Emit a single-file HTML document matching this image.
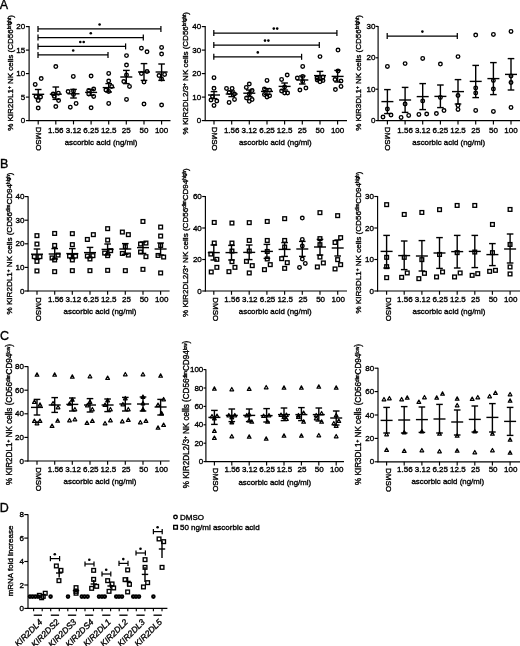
<!DOCTYPE html>
<html><head><meta charset="utf-8"><title>figure</title>
<style>
html,body{margin:0;padding:0;background:#fff;}
body{width:520px;height:646px;overflow:hidden;font-family:"Liberation Sans",sans-serif;}
svg{display:block;filter:blur(0.45px);}
svg text{font-family:"Liberation Sans",sans-serif;fill:#000;stroke:#000;stroke-width:0.35px;}
</style></head><body>
<svg width="520" height="646" viewBox="0 0 520 646">
<rect width="520" height="646" fill="#fff"/>
<text x="-0.3" y="8.8" font-size="12.5" text-anchor="start">A</text>
<text x="-0.1" y="168.2" font-size="12.5" text-anchor="start">B</text>
<text x="0.0" y="339.8" font-size="12.5" text-anchor="start">C</text>
<text x="-0.3" y="511.6" font-size="12.5" text-anchor="start">D</text>
<path d="M29.1 26.1L29.1 121.0" stroke="#000" stroke-width="1.15" fill="none"/>
<path d="M28.6 120.6L170.5 120.6" stroke="#000" stroke-width="1.15" fill="none"/>
<path d="M25.9 120.6L29.1 120.6" stroke="#000" stroke-width="1.15" fill="none"/>
<text x="25.2" y="123.0" font-size="8.0" text-anchor="end">0</text>
<path d="M25.9 97.1L29.1 97.1" stroke="#000" stroke-width="1.15" fill="none"/>
<text x="25.2" y="100.0" font-size="8.0" text-anchor="end">5</text>
<path d="M25.9 73.6L29.1 73.6" stroke="#000" stroke-width="1.15" fill="none"/>
<text x="25.2" y="76.0" font-size="8.0" text-anchor="end">10</text>
<path d="M25.9 50.1L29.1 50.1" stroke="#000" stroke-width="1.15" fill="none"/>
<text x="25.2" y="53.0" font-size="8.0" text-anchor="end">15</text>
<path d="M25.9 26.6L29.1 26.6" stroke="#000" stroke-width="1.15" fill="none"/>
<text x="25.2" y="29.0" font-size="8.0" text-anchor="end">20</text>
<path d="M38.2 120.6L38.2 124.4" stroke="#000" stroke-width="1.15" fill="none"/>
<text x="36.0" y="126.8" font-size="8.0" text-anchor="start" transform="rotate(90 36.0 126.8)">DMSO</text>
<path d="M55.8 120.6L55.8 124.4" stroke="#000" stroke-width="1.15" fill="none"/>
<text x="55.8" y="133.2" font-size="8.0" text-anchor="middle">1.56</text>
<path d="M73.5 120.6L73.5 124.4" stroke="#000" stroke-width="1.15" fill="none"/>
<text x="73.5" y="133.2" font-size="8.0" text-anchor="middle">3.12</text>
<path d="M91.1 120.6L91.1 124.4" stroke="#000" stroke-width="1.15" fill="none"/>
<text x="91.1" y="133.2" font-size="8.0" text-anchor="middle">6.25</text>
<path d="M108.7 120.6L108.7 124.4" stroke="#000" stroke-width="1.15" fill="none"/>
<text x="108.7" y="133.2" font-size="8.0" text-anchor="middle">12.5</text>
<path d="M126.3 120.6L126.3 124.4" stroke="#000" stroke-width="1.15" fill="none"/>
<text x="126.3" y="133.2" font-size="8.0" text-anchor="middle">25</text>
<path d="M144.0 120.6L144.0 124.4" stroke="#000" stroke-width="1.15" fill="none"/>
<text x="144.0" y="133.2" font-size="8.0" text-anchor="middle">50</text>
<path d="M161.6 120.6L161.6 124.4" stroke="#000" stroke-width="1.15" fill="none"/>
<text x="161.6" y="133.2" font-size="8.0" text-anchor="middle">100</text>
<text x="101.1" y="145.2" font-size="7.9" text-anchor="middle">ascorbic acid (ng/ml)</text>
<text x="12.7" y="73.0" font-size="8.0" text-anchor="middle" transform="rotate(-90 12.7 73.0)">% KIR2DL1<tspan font-size="4.8" dy="-1.9">+</tspan><tspan dy="1.9"> NK cells (CD56<tspan font-size="4.6" dy="-1.9">bright</tspan><tspan dy="1.9">)</tspan></tspan></text>
<circle cx="35.2" cy="84.4" r="1.8" fill="none" stroke="#000" stroke-width="1.35"/>
<circle cx="41.2" cy="78.6" r="1.8" fill="none" stroke="#000" stroke-width="1.35"/>
<circle cx="36.0" cy="96.6" r="1.8" fill="none" stroke="#000" stroke-width="1.35"/>
<circle cx="40.6" cy="97.0" r="1.8" fill="none" stroke="#000" stroke-width="1.35"/>
<circle cx="38.2" cy="100.4" r="1.8" fill="none" stroke="#000" stroke-width="1.35"/>
<circle cx="38.2" cy="108.0" r="1.8" fill="none" stroke="#000" stroke-width="1.35"/>
<path d="M32.2 94.3L44.2 94.3" stroke="#000" stroke-width="1.4" fill="none"/>
<path d="M38.2 89.5L38.2 98.6" stroke="#000" stroke-width="1.4" fill="none"/>
<path d="M34.9 89.5L41.5 89.5" stroke="#000" stroke-width="1.4" fill="none"/>
<path d="M34.9 98.6L41.5 98.6" stroke="#000" stroke-width="1.4" fill="none"/>
<circle cx="55.8" cy="66.6" r="1.8" fill="none" stroke="#000" stroke-width="1.35"/>
<circle cx="53.2" cy="94.0" r="1.8" fill="none" stroke="#000" stroke-width="1.35"/>
<circle cx="58.4" cy="93.2" r="1.8" fill="none" stroke="#000" stroke-width="1.35"/>
<circle cx="54.2" cy="96.2" r="1.8" fill="none" stroke="#000" stroke-width="1.35"/>
<circle cx="58.6" cy="100.6" r="1.8" fill="none" stroke="#000" stroke-width="1.35"/>
<circle cx="55.8" cy="106.6" r="1.8" fill="none" stroke="#000" stroke-width="1.35"/>
<path d="M49.8 94.2L61.8 94.2" stroke="#000" stroke-width="1.4" fill="none"/>
<path d="M55.8 87.0L55.8 99.4" stroke="#000" stroke-width="1.4" fill="none"/>
<path d="M52.5 87.0L59.1 87.0" stroke="#000" stroke-width="1.4" fill="none"/>
<path d="M52.5 99.4L59.1 99.4" stroke="#000" stroke-width="1.4" fill="none"/>
<circle cx="73.3" cy="76.4" r="1.8" fill="none" stroke="#000" stroke-width="1.35"/>
<circle cx="68.1" cy="91.6" r="1.8" fill="none" stroke="#000" stroke-width="1.35"/>
<circle cx="73.5" cy="91.0" r="1.8" fill="none" stroke="#000" stroke-width="1.35"/>
<circle cx="73.5" cy="94.6" r="1.8" fill="none" stroke="#000" stroke-width="1.35"/>
<circle cx="76.1" cy="103.4" r="1.8" fill="none" stroke="#000" stroke-width="1.35"/>
<circle cx="70.3" cy="107.2" r="1.8" fill="none" stroke="#000" stroke-width="1.35"/>
<path d="M67.5 93.8L79.5 93.8" stroke="#000" stroke-width="1.4" fill="none"/>
<path d="M73.5 89.4L73.5 98.0" stroke="#000" stroke-width="1.4" fill="none"/>
<path d="M70.2 89.4L76.8 89.4" stroke="#000" stroke-width="1.4" fill="none"/>
<path d="M70.2 98.0L76.8 98.0" stroke="#000" stroke-width="1.4" fill="none"/>
<circle cx="91.1" cy="76.0" r="1.8" fill="none" stroke="#000" stroke-width="1.35"/>
<circle cx="88.7" cy="90.4" r="1.8" fill="none" stroke="#000" stroke-width="1.35"/>
<circle cx="93.7" cy="89.0" r="1.8" fill="none" stroke="#000" stroke-width="1.35"/>
<circle cx="88.7" cy="94.0" r="1.8" fill="none" stroke="#000" stroke-width="1.35"/>
<circle cx="93.7" cy="96.4" r="1.8" fill="none" stroke="#000" stroke-width="1.35"/>
<circle cx="91.1" cy="107.8" r="1.8" fill="none" stroke="#000" stroke-width="1.35"/>
<path d="M85.1 92.4L97.1 92.4" stroke="#000" stroke-width="1.4" fill="none"/>
<path d="M91.1 89.4L91.1 95.4" stroke="#000" stroke-width="1.4" fill="none"/>
<path d="M87.8 89.4L94.4 89.4" stroke="#000" stroke-width="1.4" fill="none"/>
<path d="M87.8 95.4L94.4 95.4" stroke="#000" stroke-width="1.4" fill="none"/>
<circle cx="108.7" cy="73.4" r="1.8" fill="none" stroke="#000" stroke-width="1.35"/>
<circle cx="108.7" cy="81.0" r="1.8" fill="none" stroke="#000" stroke-width="1.35"/>
<circle cx="105.9" cy="90.0" r="1.8" fill="none" stroke="#000" stroke-width="1.35"/>
<circle cx="111.7" cy="86.6" r="1.8" fill="none" stroke="#000" stroke-width="1.35"/>
<circle cx="108.7" cy="91.4" r="1.8" fill="none" stroke="#000" stroke-width="1.35"/>
<circle cx="108.7" cy="103.4" r="1.8" fill="none" stroke="#000" stroke-width="1.35"/>
<path d="M102.7 87.6L114.7 87.6" stroke="#000" stroke-width="1.4" fill="none"/>
<path d="M108.7 83.6L108.7 92.0" stroke="#000" stroke-width="1.4" fill="none"/>
<path d="M105.4 83.6L112.0 83.6" stroke="#000" stroke-width="1.4" fill="none"/>
<path d="M105.4 92.0L112.0 92.0" stroke="#000" stroke-width="1.4" fill="none"/>
<circle cx="126.5" cy="55.6" r="1.8" fill="none" stroke="#000" stroke-width="1.35"/>
<circle cx="126.5" cy="65.0" r="1.8" fill="none" stroke="#000" stroke-width="1.35"/>
<circle cx="126.5" cy="75.0" r="1.8" fill="none" stroke="#000" stroke-width="1.35"/>
<circle cx="123.8" cy="81.6" r="1.8" fill="none" stroke="#000" stroke-width="1.35"/>
<circle cx="129.5" cy="86.4" r="1.8" fill="none" stroke="#000" stroke-width="1.35"/>
<circle cx="126.5" cy="99.4" r="1.8" fill="none" stroke="#000" stroke-width="1.35"/>
<path d="M120.3 77.0L132.3 77.0" stroke="#000" stroke-width="1.4" fill="none"/>
<path d="M126.3 70.4L126.3 83.6" stroke="#000" stroke-width="1.4" fill="none"/>
<path d="M123.0 70.4L129.7 70.4" stroke="#000" stroke-width="1.4" fill="none"/>
<path d="M123.0 83.6L129.7 83.6" stroke="#000" stroke-width="1.4" fill="none"/>
<circle cx="141.4" cy="48.2" r="1.8" fill="none" stroke="#000" stroke-width="1.35"/>
<circle cx="147.0" cy="51.8" r="1.8" fill="none" stroke="#000" stroke-width="1.35"/>
<circle cx="141.4" cy="73.6" r="1.8" fill="none" stroke="#000" stroke-width="1.35"/>
<circle cx="147.0" cy="71.6" r="1.8" fill="none" stroke="#000" stroke-width="1.35"/>
<circle cx="144.0" cy="82.0" r="1.8" fill="none" stroke="#000" stroke-width="1.35"/>
<circle cx="144.0" cy="104.0" r="1.8" fill="none" stroke="#000" stroke-width="1.35"/>
<path d="M138.0 72.0L150.0 72.0" stroke="#000" stroke-width="1.4" fill="none"/>
<path d="M144.0 63.6L144.0 80.4" stroke="#000" stroke-width="1.4" fill="none"/>
<path d="M140.7 63.6L147.3 63.6" stroke="#000" stroke-width="1.4" fill="none"/>
<path d="M140.7 80.4L147.3 80.4" stroke="#000" stroke-width="1.4" fill="none"/>
<circle cx="161.6" cy="47.4" r="1.8" fill="none" stroke="#000" stroke-width="1.35"/>
<circle cx="161.6" cy="54.0" r="1.8" fill="none" stroke="#000" stroke-width="1.35"/>
<circle cx="159.0" cy="75.6" r="1.8" fill="none" stroke="#000" stroke-width="1.35"/>
<circle cx="164.6" cy="74.4" r="1.8" fill="none" stroke="#000" stroke-width="1.35"/>
<circle cx="161.6" cy="79.0" r="1.8" fill="none" stroke="#000" stroke-width="1.35"/>
<circle cx="161.6" cy="105.0" r="1.8" fill="none" stroke="#000" stroke-width="1.35"/>
<path d="M155.6 72.0L167.6 72.0" stroke="#000" stroke-width="1.4" fill="none"/>
<path d="M161.6 64.0L161.6 80.4" stroke="#000" stroke-width="1.4" fill="none"/>
<path d="M158.3 64.0L164.9 64.0" stroke="#000" stroke-width="1.4" fill="none"/>
<path d="M158.3 80.4L164.9 80.4" stroke="#000" stroke-width="1.4" fill="none"/>
<path d="M38.0 28.9L160.9 28.9" stroke="#000" stroke-width="1.25" fill="none"/>
<path d="M38.0 25.9L38.0 31.9" stroke="#000" stroke-width="1.25" fill="none"/>
<path d="M160.9 25.9L160.9 31.9" stroke="#000" stroke-width="1.25" fill="none"/>
<circle cx="99.6" cy="24.5" r="1.3" fill="#000"/>
<path d="M38.0 37.6L143.3 37.6" stroke="#000" stroke-width="1.25" fill="none"/>
<path d="M38.0 34.6L38.0 40.6" stroke="#000" stroke-width="1.25" fill="none"/>
<path d="M143.3 34.6L143.3 40.6" stroke="#000" stroke-width="1.25" fill="none"/>
<circle cx="90.8" cy="33.2" r="1.3" fill="#000"/>
<path d="M38.0 46.4L125.6 46.4" stroke="#000" stroke-width="1.25" fill="none"/>
<path d="M38.0 43.4L38.0 49.4" stroke="#000" stroke-width="1.25" fill="none"/>
<path d="M125.6 43.4L125.6 49.4" stroke="#000" stroke-width="1.25" fill="none"/>
<circle cx="80.3" cy="42.0" r="1.3" fill="#000"/><circle cx="83.7" cy="42.0" r="1.3" fill="#000"/>
<path d="M38.0 54.9L108.0 54.9" stroke="#000" stroke-width="1.25" fill="none"/>
<path d="M38.0 51.9L38.0 57.9" stroke="#000" stroke-width="1.25" fill="none"/>
<path d="M108.0 51.9L108.0 57.9" stroke="#000" stroke-width="1.25" fill="none"/>
<circle cx="73.2" cy="50.5" r="1.3" fill="#000"/>
<path d="M205.2 26.1L205.2 121.0" stroke="#000" stroke-width="1.15" fill="none"/>
<path d="M204.7 120.6L347.0 120.6" stroke="#000" stroke-width="1.15" fill="none"/>
<path d="M201.8 120.6L205.2 120.6" stroke="#000" stroke-width="1.15" fill="none"/>
<text x="201.2" y="123.0" font-size="8.0" text-anchor="end">0</text>
<path d="M201.8 97.1L205.2 97.1" stroke="#000" stroke-width="1.15" fill="none"/>
<text x="201.2" y="100.0" font-size="8.0" text-anchor="end">10</text>
<path d="M201.8 73.6L205.2 73.6" stroke="#000" stroke-width="1.15" fill="none"/>
<text x="201.2" y="76.0" font-size="8.0" text-anchor="end">20</text>
<path d="M201.8 50.1L205.2 50.1" stroke="#000" stroke-width="1.15" fill="none"/>
<text x="201.2" y="53.0" font-size="8.0" text-anchor="end">30</text>
<path d="M201.8 26.6L205.2 26.6" stroke="#000" stroke-width="1.15" fill="none"/>
<text x="201.2" y="29.0" font-size="8.0" text-anchor="end">40</text>
<path d="M214.0 120.6L214.0 124.4" stroke="#000" stroke-width="1.15" fill="none"/>
<text x="211.8" y="126.8" font-size="8.0" text-anchor="start" transform="rotate(90 211.8 126.8)">DMSO</text>
<path d="M231.7 120.6L231.7 124.4" stroke="#000" stroke-width="1.15" fill="none"/>
<text x="231.7" y="133.2" font-size="8.0" text-anchor="middle">1.56</text>
<path d="M249.3 120.6L249.3 124.4" stroke="#000" stroke-width="1.15" fill="none"/>
<text x="249.3" y="133.2" font-size="8.0" text-anchor="middle">3.12</text>
<path d="M267.0 120.6L267.0 124.4" stroke="#000" stroke-width="1.15" fill="none"/>
<text x="267.0" y="133.2" font-size="8.0" text-anchor="middle">6.25</text>
<path d="M284.6 120.6L284.6 124.4" stroke="#000" stroke-width="1.15" fill="none"/>
<text x="284.6" y="133.2" font-size="8.0" text-anchor="middle">12.5</text>
<path d="M302.3 120.6L302.3 124.4" stroke="#000" stroke-width="1.15" fill="none"/>
<text x="302.3" y="133.2" font-size="8.0" text-anchor="middle">25</text>
<path d="M320.0 120.6L320.0 124.4" stroke="#000" stroke-width="1.15" fill="none"/>
<text x="320.0" y="133.2" font-size="8.0" text-anchor="middle">50</text>
<path d="M337.6 120.6L337.6 124.4" stroke="#000" stroke-width="1.15" fill="none"/>
<text x="337.6" y="133.2" font-size="8.0" text-anchor="middle">100</text>
<text x="275.3" y="145.2" font-size="7.9" text-anchor="middle">ascorbic acid (ng/ml)</text>
<text x="187.8" y="73.2" font-size="8.0" text-anchor="middle" transform="rotate(-90 187.8 73.2)">% KIR2DL2/3<tspan font-size="4.8" dy="-1.9">+</tspan><tspan dy="1.9"> NK cells (CD56<tspan font-size="4.6" dy="-1.9">bright</tspan><tspan dy="1.9">)</tspan></tspan></text>
<circle cx="214.0" cy="77.7" r="1.8" fill="none" stroke="#000" stroke-width="1.35"/>
<circle cx="214.0" cy="88.3" r="1.8" fill="none" stroke="#000" stroke-width="1.35"/>
<circle cx="211.0" cy="100.0" r="1.8" fill="none" stroke="#000" stroke-width="1.35"/>
<circle cx="216.8" cy="101.0" r="1.8" fill="none" stroke="#000" stroke-width="1.35"/>
<circle cx="214.0" cy="105.4" r="1.8" fill="none" stroke="#000" stroke-width="1.35"/>
<circle cx="212.5" cy="96.5" r="1.8" fill="none" stroke="#000" stroke-width="1.35"/>
<path d="M208.0 95.0L220.0 95.0" stroke="#000" stroke-width="1.4" fill="none"/>
<path d="M214.0 91.6L214.0 98.6" stroke="#000" stroke-width="1.4" fill="none"/>
<path d="M210.7 91.6L217.3 91.6" stroke="#000" stroke-width="1.4" fill="none"/>
<path d="M210.7 98.6L217.3 98.6" stroke="#000" stroke-width="1.4" fill="none"/>
<circle cx="226.5" cy="88.4" r="1.8" fill="none" stroke="#000" stroke-width="1.35"/>
<circle cx="232.1" cy="88.4" r="1.8" fill="none" stroke="#000" stroke-width="1.35"/>
<circle cx="229.1" cy="92.4" r="1.8" fill="none" stroke="#000" stroke-width="1.35"/>
<circle cx="234.5" cy="94.0" r="1.8" fill="none" stroke="#000" stroke-width="1.35"/>
<circle cx="229.1" cy="102.4" r="1.8" fill="none" stroke="#000" stroke-width="1.35"/>
<circle cx="234.5" cy="99.4" r="1.8" fill="none" stroke="#000" stroke-width="1.35"/>
<path d="M225.7 94.0L237.7 94.0" stroke="#000" stroke-width="1.4" fill="none"/>
<path d="M231.7 91.0L231.7 96.6" stroke="#000" stroke-width="1.4" fill="none"/>
<path d="M228.4 91.0L235.0 91.0" stroke="#000" stroke-width="1.4" fill="none"/>
<path d="M228.4 96.6L235.0 96.6" stroke="#000" stroke-width="1.4" fill="none"/>
<circle cx="249.3" cy="84.0" r="1.8" fill="none" stroke="#000" stroke-width="1.35"/>
<circle cx="246.3" cy="87.4" r="1.8" fill="none" stroke="#000" stroke-width="1.35"/>
<circle cx="252.1" cy="90.6" r="1.8" fill="none" stroke="#000" stroke-width="1.35"/>
<circle cx="246.5" cy="98.0" r="1.8" fill="none" stroke="#000" stroke-width="1.35"/>
<circle cx="252.1" cy="99.6" r="1.8" fill="none" stroke="#000" stroke-width="1.35"/>
<circle cx="249.3" cy="101.3" r="1.8" fill="none" stroke="#000" stroke-width="1.35"/>
<circle cx="249.3" cy="94.0" r="1.8" fill="none" stroke="#000" stroke-width="1.35"/>
<path d="M243.3 93.2L255.3 93.2" stroke="#000" stroke-width="1.4" fill="none"/>
<path d="M249.3 90.0L249.3 96.6" stroke="#000" stroke-width="1.4" fill="none"/>
<path d="M246.0 90.0L252.6 90.0" stroke="#000" stroke-width="1.4" fill="none"/>
<path d="M246.0 96.6L252.6 96.6" stroke="#000" stroke-width="1.4" fill="none"/>
<circle cx="267.0" cy="80.4" r="1.8" fill="none" stroke="#000" stroke-width="1.35"/>
<circle cx="264.4" cy="89.0" r="1.8" fill="none" stroke="#000" stroke-width="1.35"/>
<circle cx="269.6" cy="90.2" r="1.8" fill="none" stroke="#000" stroke-width="1.35"/>
<circle cx="264.4" cy="94.6" r="1.8" fill="none" stroke="#000" stroke-width="1.35"/>
<circle cx="269.6" cy="95.8" r="1.8" fill="none" stroke="#000" stroke-width="1.35"/>
<circle cx="267.0" cy="97.0" r="1.8" fill="none" stroke="#000" stroke-width="1.35"/>
<path d="M261.0 91.4L273.0 91.4" stroke="#000" stroke-width="1.4" fill="none"/>
<path d="M267.0 88.6L267.0 94.4" stroke="#000" stroke-width="1.4" fill="none"/>
<path d="M263.7 88.6L270.3 88.6" stroke="#000" stroke-width="1.4" fill="none"/>
<path d="M263.7 94.4L270.3 94.4" stroke="#000" stroke-width="1.4" fill="none"/>
<circle cx="287.2" cy="75.0" r="1.8" fill="none" stroke="#000" stroke-width="1.35"/>
<circle cx="281.6" cy="79.4" r="1.8" fill="none" stroke="#000" stroke-width="1.35"/>
<circle cx="284.6" cy="87.0" r="1.8" fill="none" stroke="#000" stroke-width="1.35"/>
<circle cx="281.6" cy="91.0" r="1.8" fill="none" stroke="#000" stroke-width="1.35"/>
<circle cx="284.6" cy="93.0" r="1.8" fill="none" stroke="#000" stroke-width="1.35"/>
<circle cx="287.6" cy="93.0" r="1.8" fill="none" stroke="#000" stroke-width="1.35"/>
<path d="M278.6 86.4L290.6 86.4" stroke="#000" stroke-width="1.4" fill="none"/>
<path d="M284.6 83.0L284.6 90.0" stroke="#000" stroke-width="1.4" fill="none"/>
<path d="M281.3 83.0L287.9 83.0" stroke="#000" stroke-width="1.4" fill="none"/>
<path d="M281.3 90.0L287.9 90.0" stroke="#000" stroke-width="1.4" fill="none"/>
<circle cx="302.7" cy="66.4" r="1.8" fill="none" stroke="#000" stroke-width="1.35"/>
<circle cx="302.7" cy="76.4" r="1.8" fill="none" stroke="#000" stroke-width="1.35"/>
<circle cx="297.3" cy="78.0" r="1.8" fill="none" stroke="#000" stroke-width="1.35"/>
<circle cx="302.7" cy="81.6" r="1.8" fill="none" stroke="#000" stroke-width="1.35"/>
<circle cx="305.9" cy="88.0" r="1.8" fill="none" stroke="#000" stroke-width="1.35"/>
<circle cx="299.9" cy="90.0" r="1.8" fill="none" stroke="#000" stroke-width="1.35"/>
<path d="M296.3 80.0L308.3 80.0" stroke="#000" stroke-width="1.4" fill="none"/>
<path d="M302.3 76.0L302.3 84.0" stroke="#000" stroke-width="1.4" fill="none"/>
<path d="M299.0 76.0L305.6 76.0" stroke="#000" stroke-width="1.4" fill="none"/>
<path d="M299.0 84.0L305.6 84.0" stroke="#000" stroke-width="1.4" fill="none"/>
<circle cx="320.0" cy="56.6" r="1.8" fill="none" stroke="#000" stroke-width="1.35"/>
<circle cx="317.0" cy="78.0" r="1.8" fill="none" stroke="#000" stroke-width="1.35"/>
<circle cx="323.0" cy="77.0" r="1.8" fill="none" stroke="#000" stroke-width="1.35"/>
<circle cx="317.2" cy="80.0" r="1.8" fill="none" stroke="#000" stroke-width="1.35"/>
<circle cx="323.0" cy="80.6" r="1.8" fill="none" stroke="#000" stroke-width="1.35"/>
<circle cx="320.0" cy="81.8" r="1.8" fill="none" stroke="#000" stroke-width="1.35"/>
<path d="M314.0 75.6L326.0 75.6" stroke="#000" stroke-width="1.4" fill="none"/>
<path d="M320.0 71.4L320.0 80.0" stroke="#000" stroke-width="1.4" fill="none"/>
<path d="M316.7 71.4L323.3 71.4" stroke="#000" stroke-width="1.4" fill="none"/>
<path d="M316.7 80.0L323.3 80.0" stroke="#000" stroke-width="1.4" fill="none"/>
<circle cx="338.0" cy="50.0" r="1.8" fill="none" stroke="#000" stroke-width="1.35"/>
<circle cx="338.0" cy="71.0" r="1.8" fill="none" stroke="#000" stroke-width="1.35"/>
<circle cx="335.0" cy="79.6" r="1.8" fill="none" stroke="#000" stroke-width="1.35"/>
<circle cx="341.0" cy="81.0" r="1.8" fill="none" stroke="#000" stroke-width="1.35"/>
<circle cx="341.0" cy="86.4" r="1.8" fill="none" stroke="#000" stroke-width="1.35"/>
<circle cx="335.4" cy="89.6" r="1.8" fill="none" stroke="#000" stroke-width="1.35"/>
<path d="M331.6 76.4L343.6 76.4" stroke="#000" stroke-width="1.4" fill="none"/>
<path d="M337.6 70.4L337.6 82.0" stroke="#000" stroke-width="1.4" fill="none"/>
<path d="M334.3 70.4L340.9 70.4" stroke="#000" stroke-width="1.4" fill="none"/>
<path d="M334.3 82.0L340.9 82.0" stroke="#000" stroke-width="1.4" fill="none"/>
<path d="M213.8 33.0L336.9 33.0" stroke="#000" stroke-width="1.25" fill="none"/>
<path d="M213.8 30.0L213.8 36.0" stroke="#000" stroke-width="1.25" fill="none"/>
<path d="M336.9 30.0L336.9 36.0" stroke="#000" stroke-width="1.25" fill="none"/>
<circle cx="273.8" cy="28.6" r="1.3" fill="#000"/><circle cx="277.2" cy="28.6" r="1.3" fill="#000"/>
<path d="M213.8 45.0L319.3 45.0" stroke="#000" stroke-width="1.25" fill="none"/>
<path d="M213.8 42.0L213.8 48.0" stroke="#000" stroke-width="1.25" fill="none"/>
<path d="M319.3 42.0L319.3 48.0" stroke="#000" stroke-width="1.25" fill="none"/>
<circle cx="265.0" cy="40.6" r="1.3" fill="#000"/><circle cx="268.4" cy="40.6" r="1.3" fill="#000"/>
<path d="M213.8 56.8L301.6 56.8" stroke="#000" stroke-width="1.25" fill="none"/>
<path d="M213.8 53.8L213.8 59.8" stroke="#000" stroke-width="1.25" fill="none"/>
<path d="M301.6 53.8L301.6 59.8" stroke="#000" stroke-width="1.25" fill="none"/>
<circle cx="257.8" cy="52.4" r="1.3" fill="#000"/>
<path d="M378.1 26.0L378.1 121.0" stroke="#000" stroke-width="1.15" fill="none"/>
<path d="M377.6 120.6L520.0 120.6" stroke="#000" stroke-width="1.15" fill="none"/>
<path d="M375.6 120.6L378.1 120.6" stroke="#000" stroke-width="1.15" fill="none"/>
<text x="375.4" y="123.0" font-size="8.0" text-anchor="end">0</text>
<path d="M375.6 89.2L378.1 89.2" stroke="#000" stroke-width="1.15" fill="none"/>
<text x="375.4" y="92.0" font-size="8.0" text-anchor="end">10</text>
<path d="M375.6 57.8L378.1 57.8" stroke="#000" stroke-width="1.15" fill="none"/>
<text x="375.4" y="60.0" font-size="8.0" text-anchor="end">20</text>
<path d="M375.6 26.4L378.1 26.4" stroke="#000" stroke-width="1.15" fill="none"/>
<text x="375.4" y="29.0" font-size="8.0" text-anchor="end">30</text>
<path d="M387.4 120.6L387.4 124.4" stroke="#000" stroke-width="1.15" fill="none"/>
<text x="385.2" y="126.8" font-size="8.0" text-anchor="start" transform="rotate(90 385.2 126.8)">DMSO</text>
<path d="M405.1 120.6L405.1 124.4" stroke="#000" stroke-width="1.15" fill="none"/>
<text x="405.1" y="133.2" font-size="8.0" text-anchor="middle">1.56</text>
<path d="M422.7 120.6L422.7 124.4" stroke="#000" stroke-width="1.15" fill="none"/>
<text x="422.7" y="133.2" font-size="8.0" text-anchor="middle">3.12</text>
<path d="M440.4 120.6L440.4 124.4" stroke="#000" stroke-width="1.15" fill="none"/>
<text x="440.4" y="133.2" font-size="8.0" text-anchor="middle">6.25</text>
<path d="M458.0 120.6L458.0 124.4" stroke="#000" stroke-width="1.15" fill="none"/>
<text x="458.0" y="133.2" font-size="8.0" text-anchor="middle">12.5</text>
<path d="M475.7 120.6L475.7 124.4" stroke="#000" stroke-width="1.15" fill="none"/>
<text x="475.7" y="133.2" font-size="8.0" text-anchor="middle">25</text>
<path d="M493.4 120.6L493.4 124.4" stroke="#000" stroke-width="1.15" fill="none"/>
<text x="493.4" y="133.2" font-size="8.0" text-anchor="middle">50</text>
<path d="M511.0 120.6L511.0 124.4" stroke="#000" stroke-width="1.15" fill="none"/>
<text x="511.0" y="133.2" font-size="8.0" text-anchor="middle">100</text>
<text x="448.7" y="145.2" font-size="7.9" text-anchor="middle">ascorbic acid (ng/ml)</text>
<text x="360.8" y="73.0" font-size="8.0" text-anchor="middle" transform="rotate(-90 360.8 73.0)">% KIR3DL1<tspan font-size="4.8" dy="-1.9">+</tspan><tspan dy="1.9"> NK cells (CD56<tspan font-size="4.6" dy="-1.9">bright</tspan><tspan dy="1.9">)</tspan></tspan></text>
<circle cx="387.4" cy="66.4" r="1.8" fill="none" stroke="#000" stroke-width="1.35"/>
<circle cx="387.4" cy="109.0" r="1.8" fill="none" stroke="#000" stroke-width="1.35"/>
<circle cx="383.0" cy="117.0" r="1.8" fill="none" stroke="#000" stroke-width="1.35"/>
<circle cx="391.0" cy="115.0" r="1.8" fill="none" stroke="#000" stroke-width="1.35"/>
<path d="M381.4 101.6L393.4 101.6" stroke="#000" stroke-width="1.4" fill="none"/>
<path d="M387.4 89.6L387.4 113.6" stroke="#000" stroke-width="1.4" fill="none"/>
<path d="M384.1 89.6L390.7 89.6" stroke="#000" stroke-width="1.4" fill="none"/>
<path d="M384.1 113.6L390.7 113.6" stroke="#000" stroke-width="1.4" fill="none"/>
<circle cx="405.1" cy="63.6" r="1.8" fill="none" stroke="#000" stroke-width="1.35"/>
<circle cx="405.1" cy="104.0" r="1.8" fill="none" stroke="#000" stroke-width="1.35"/>
<circle cx="401.1" cy="117.4" r="1.8" fill="none" stroke="#000" stroke-width="1.35"/>
<circle cx="408.7" cy="115.4" r="1.8" fill="none" stroke="#000" stroke-width="1.35"/>
<path d="M399.1 100.0L411.1 100.0" stroke="#000" stroke-width="1.4" fill="none"/>
<path d="M405.1 87.4L405.1 112.4" stroke="#000" stroke-width="1.4" fill="none"/>
<path d="M401.8 87.4L408.4 87.4" stroke="#000" stroke-width="1.4" fill="none"/>
<path d="M401.8 112.4L408.4 112.4" stroke="#000" stroke-width="1.4" fill="none"/>
<circle cx="422.7" cy="58.4" r="1.8" fill="none" stroke="#000" stroke-width="1.35"/>
<circle cx="422.7" cy="101.0" r="1.8" fill="none" stroke="#000" stroke-width="1.35"/>
<circle cx="418.9" cy="114.4" r="1.8" fill="none" stroke="#000" stroke-width="1.35"/>
<circle cx="426.7" cy="114.0" r="1.8" fill="none" stroke="#000" stroke-width="1.35"/>
<path d="M416.7 96.6L428.7 96.6" stroke="#000" stroke-width="1.4" fill="none"/>
<path d="M422.7 83.6L422.7 109.6" stroke="#000" stroke-width="1.4" fill="none"/>
<path d="M419.4 83.6L426.0 83.6" stroke="#000" stroke-width="1.4" fill="none"/>
<path d="M419.4 109.6L426.0 109.6" stroke="#000" stroke-width="1.4" fill="none"/>
<circle cx="440.4" cy="64.0" r="1.8" fill="none" stroke="#000" stroke-width="1.35"/>
<circle cx="440.4" cy="97.4" r="1.8" fill="none" stroke="#000" stroke-width="1.35"/>
<circle cx="436.4" cy="113.6" r="1.8" fill="none" stroke="#000" stroke-width="1.35"/>
<circle cx="444.0" cy="110.6" r="1.8" fill="none" stroke="#000" stroke-width="1.35"/>
<path d="M434.4 96.4L446.4 96.4" stroke="#000" stroke-width="1.4" fill="none"/>
<path d="M440.4 85.0L440.4 107.6" stroke="#000" stroke-width="1.4" fill="none"/>
<path d="M437.1 85.0L443.7 85.0" stroke="#000" stroke-width="1.4" fill="none"/>
<path d="M437.1 107.6L443.7 107.6" stroke="#000" stroke-width="1.4" fill="none"/>
<circle cx="458.0" cy="56.6" r="1.8" fill="none" stroke="#000" stroke-width="1.35"/>
<circle cx="458.0" cy="95.6" r="1.8" fill="none" stroke="#000" stroke-width="1.35"/>
<circle cx="458.0" cy="105.6" r="1.8" fill="none" stroke="#000" stroke-width="1.35"/>
<circle cx="458.0" cy="109.4" r="1.8" fill="none" stroke="#000" stroke-width="1.35"/>
<path d="M452.0 91.6L464.0 91.6" stroke="#000" stroke-width="1.4" fill="none"/>
<path d="M458.0 79.6L458.0 104.0" stroke="#000" stroke-width="1.4" fill="none"/>
<path d="M454.7 79.6L461.3 79.6" stroke="#000" stroke-width="1.4" fill="none"/>
<path d="M454.7 104.0L461.3 104.0" stroke="#000" stroke-width="1.4" fill="none"/>
<circle cx="475.7" cy="35.0" r="1.8" fill="none" stroke="#000" stroke-width="1.35"/>
<circle cx="475.7" cy="88.0" r="1.8" fill="none" stroke="#000" stroke-width="1.35"/>
<circle cx="475.7" cy="93.0" r="1.8" fill="none" stroke="#000" stroke-width="1.35"/>
<circle cx="475.7" cy="110.4" r="1.8" fill="none" stroke="#000" stroke-width="1.35"/>
<path d="M469.7 81.4L481.7 81.4" stroke="#000" stroke-width="1.4" fill="none"/>
<path d="M475.7 65.4L475.7 97.6" stroke="#000" stroke-width="1.4" fill="none"/>
<path d="M472.4 65.4L479.0 65.4" stroke="#000" stroke-width="1.4" fill="none"/>
<path d="M472.4 97.6L479.0 97.6" stroke="#000" stroke-width="1.4" fill="none"/>
<circle cx="493.4" cy="34.4" r="1.8" fill="none" stroke="#000" stroke-width="1.35"/>
<circle cx="493.4" cy="80.4" r="1.8" fill="none" stroke="#000" stroke-width="1.35"/>
<circle cx="493.4" cy="89.0" r="1.8" fill="none" stroke="#000" stroke-width="1.35"/>
<circle cx="493.4" cy="111.4" r="1.8" fill="none" stroke="#000" stroke-width="1.35"/>
<path d="M487.4 78.6L499.4 78.6" stroke="#000" stroke-width="1.4" fill="none"/>
<path d="M493.4 62.6L493.4 94.6" stroke="#000" stroke-width="1.4" fill="none"/>
<path d="M490.1 62.6L496.7 62.6" stroke="#000" stroke-width="1.4" fill="none"/>
<path d="M490.1 94.6L496.7 94.6" stroke="#000" stroke-width="1.4" fill="none"/>
<circle cx="511.0" cy="31.4" r="1.8" fill="none" stroke="#000" stroke-width="1.35"/>
<circle cx="511.0" cy="76.0" r="1.8" fill="none" stroke="#000" stroke-width="1.35"/>
<circle cx="511.0" cy="82.6" r="1.8" fill="none" stroke="#000" stroke-width="1.35"/>
<circle cx="511.0" cy="107.4" r="1.8" fill="none" stroke="#000" stroke-width="1.35"/>
<path d="M505.0 74.4L517.0 74.4" stroke="#000" stroke-width="1.4" fill="none"/>
<path d="M511.0 58.6L511.0 90.0" stroke="#000" stroke-width="1.4" fill="none"/>
<path d="M507.7 58.6L514.3 58.6" stroke="#000" stroke-width="1.4" fill="none"/>
<path d="M507.7 90.0L514.3 90.0" stroke="#000" stroke-width="1.4" fill="none"/>
<path d="M387.2 36.0L457.3 36.0" stroke="#000" stroke-width="1.25" fill="none"/>
<path d="M387.2 33.0L387.2 39.0" stroke="#000" stroke-width="1.25" fill="none"/>
<path d="M457.3 33.0L457.3 39.0" stroke="#000" stroke-width="1.25" fill="none"/>
<circle cx="422.4" cy="31.6" r="1.3" fill="#000"/>
<path d="M28.1 196.2L28.1 291.4" stroke="#000" stroke-width="1.15" fill="none"/>
<path d="M27.6 291.0L169.6 291.0" stroke="#000" stroke-width="1.15" fill="none"/>
<path d="M24.6 291.0L28.1 291.0" stroke="#000" stroke-width="1.15" fill="none"/>
<text x="24.4" y="294.0" font-size="8.0" text-anchor="end">0</text>
<path d="M24.6 267.4L28.1 267.4" stroke="#000" stroke-width="1.15" fill="none"/>
<text x="24.4" y="270.0" font-size="8.0" text-anchor="end">10</text>
<path d="M24.6 243.8L28.1 243.8" stroke="#000" stroke-width="1.15" fill="none"/>
<text x="24.4" y="246.0" font-size="8.0" text-anchor="end">20</text>
<path d="M24.6 220.2L28.1 220.2" stroke="#000" stroke-width="1.15" fill="none"/>
<text x="24.4" y="223.0" font-size="8.0" text-anchor="end">30</text>
<path d="M24.6 196.6L28.1 196.6" stroke="#000" stroke-width="1.15" fill="none"/>
<text x="24.4" y="199.0" font-size="8.0" text-anchor="end">40</text>
<path d="M37.0 291.0L37.0 294.8" stroke="#000" stroke-width="1.15" fill="none"/>
<text x="36.4" y="297.2" font-size="8.0" text-anchor="start" transform="rotate(90 36.4 297.2)">DMSO</text>
<path d="M54.7 291.0L54.7 294.8" stroke="#000" stroke-width="1.15" fill="none"/>
<text x="55.8" y="302.1" font-size="8.0" text-anchor="middle">1.56</text>
<path d="M72.3 291.0L72.3 294.8" stroke="#000" stroke-width="1.15" fill="none"/>
<text x="73.4" y="302.1" font-size="8.0" text-anchor="middle">3.12</text>
<path d="M90.0 291.0L90.0 294.8" stroke="#000" stroke-width="1.15" fill="none"/>
<text x="91.1" y="302.1" font-size="8.0" text-anchor="middle">6.25</text>
<path d="M107.6 291.0L107.6 294.8" stroke="#000" stroke-width="1.15" fill="none"/>
<text x="108.7" y="302.1" font-size="8.0" text-anchor="middle">12.5</text>
<path d="M125.3 291.0L125.3 294.8" stroke="#000" stroke-width="1.15" fill="none"/>
<text x="126.4" y="302.1" font-size="8.0" text-anchor="middle">25</text>
<path d="M143.0 291.0L143.0 294.8" stroke="#000" stroke-width="1.15" fill="none"/>
<text x="144.1" y="302.1" font-size="8.0" text-anchor="middle">50</text>
<path d="M160.6 291.0L160.6 294.8" stroke="#000" stroke-width="1.15" fill="none"/>
<text x="161.7" y="302.1" font-size="8.0" text-anchor="middle">100</text>
<text x="100.0" y="314.4" font-size="7.9" text-anchor="middle">ascorbic acid (ng/ml)</text>
<text x="12.0" y="243.5" font-size="8.08" text-anchor="middle" transform="rotate(-90 12.0 243.5)">% KIR2DL1<tspan font-size="4.8" dy="-1.9">+</tspan><tspan dy="1.9"> NK cells (CD56<tspan font-size="4.6" dy="-1.9">dim</tspan><tspan dy="1.9">CD94</tspan><tspan font-size="4.6" dy="-1.9">high</tspan><tspan dy="1.9">)</tspan></tspan></text>
<rect x="35.1" y="233.8" width="3.7" height="3.7" fill="none" stroke="#000" stroke-width="1.35"/>
<rect x="35.1" y="242.2" width="3.7" height="3.7" fill="none" stroke="#000" stroke-width="1.35"/>
<rect x="32.4" y="254.8" width="3.7" height="3.7" fill="none" stroke="#000" stroke-width="1.35"/>
<rect x="38.1" y="254.8" width="3.7" height="3.7" fill="none" stroke="#000" stroke-width="1.35"/>
<rect x="35.1" y="259.5" width="3.7" height="3.7" fill="none" stroke="#000" stroke-width="1.35"/>
<rect x="35.1" y="269.1" width="3.7" height="3.7" fill="none" stroke="#000" stroke-width="1.35"/>
<path d="M31.0 254.2L43.0 254.2" stroke="#000" stroke-width="1.4" fill="none"/>
<path d="M37.0 249.0L37.0 259.0" stroke="#000" stroke-width="1.4" fill="none"/>
<path d="M33.7 249.0L40.3 249.0" stroke="#000" stroke-width="1.4" fill="none"/>
<path d="M33.7 259.0L40.3 259.0" stroke="#000" stroke-width="1.4" fill="none"/>
<rect x="52.8" y="231.6" width="3.7" height="3.7" fill="none" stroke="#000" stroke-width="1.35"/>
<rect x="52.8" y="243.6" width="3.7" height="3.7" fill="none" stroke="#000" stroke-width="1.35"/>
<rect x="50.2" y="256.1" width="3.7" height="3.7" fill="none" stroke="#000" stroke-width="1.35"/>
<rect x="56.2" y="253.2" width="3.7" height="3.7" fill="none" stroke="#000" stroke-width="1.35"/>
<rect x="52.8" y="258.1" width="3.7" height="3.7" fill="none" stroke="#000" stroke-width="1.35"/>
<rect x="52.8" y="269.8" width="3.7" height="3.7" fill="none" stroke="#000" stroke-width="1.35"/>
<path d="M48.7 254.0L60.7 254.0" stroke="#000" stroke-width="1.4" fill="none"/>
<path d="M54.7 248.6L54.7 259.0" stroke="#000" stroke-width="1.4" fill="none"/>
<path d="M51.4 248.6L58.0 248.6" stroke="#000" stroke-width="1.4" fill="none"/>
<path d="M51.4 259.0L58.0 259.0" stroke="#000" stroke-width="1.4" fill="none"/>
<rect x="70.5" y="231.8" width="3.7" height="3.7" fill="none" stroke="#000" stroke-width="1.35"/>
<rect x="70.5" y="242.8" width="3.7" height="3.7" fill="none" stroke="#000" stroke-width="1.35"/>
<rect x="67.7" y="254.2" width="3.7" height="3.7" fill="none" stroke="#000" stroke-width="1.35"/>
<rect x="73.7" y="254.2" width="3.7" height="3.7" fill="none" stroke="#000" stroke-width="1.35"/>
<rect x="70.5" y="258.1" width="3.7" height="3.7" fill="none" stroke="#000" stroke-width="1.35"/>
<rect x="70.5" y="268.8" width="3.7" height="3.7" fill="none" stroke="#000" stroke-width="1.35"/>
<path d="M66.3 253.6L78.3 253.6" stroke="#000" stroke-width="1.4" fill="none"/>
<path d="M72.3 248.6L72.3 258.6" stroke="#000" stroke-width="1.4" fill="none"/>
<path d="M69.0 248.6L75.6 248.6" stroke="#000" stroke-width="1.4" fill="none"/>
<path d="M69.0 258.6L75.6 258.6" stroke="#000" stroke-width="1.4" fill="none"/>
<rect x="91.5" y="232.8" width="3.7" height="3.7" fill="none" stroke="#000" stroke-width="1.35"/>
<rect x="85.5" y="237.6" width="3.7" height="3.7" fill="none" stroke="#000" stroke-width="1.35"/>
<rect x="85.5" y="254.2" width="3.7" height="3.7" fill="none" stroke="#000" stroke-width="1.35"/>
<rect x="91.1" y="253.8" width="3.7" height="3.7" fill="none" stroke="#000" stroke-width="1.35"/>
<rect x="88.1" y="257.1" width="3.7" height="3.7" fill="none" stroke="#000" stroke-width="1.35"/>
<rect x="88.1" y="268.8" width="3.7" height="3.7" fill="none" stroke="#000" stroke-width="1.35"/>
<path d="M84.0 252.6L96.0 252.6" stroke="#000" stroke-width="1.4" fill="none"/>
<path d="M90.0 247.4L90.0 257.6" stroke="#000" stroke-width="1.4" fill="none"/>
<path d="M86.7 247.4L93.3 247.4" stroke="#000" stroke-width="1.4" fill="none"/>
<path d="M86.7 257.6L93.3 257.6" stroke="#000" stroke-width="1.4" fill="none"/>
<rect x="105.8" y="226.8" width="3.7" height="3.7" fill="none" stroke="#000" stroke-width="1.35"/>
<rect x="105.8" y="238.2" width="3.7" height="3.7" fill="none" stroke="#000" stroke-width="1.35"/>
<rect x="102.8" y="251.2" width="3.7" height="3.7" fill="none" stroke="#000" stroke-width="1.35"/>
<rect x="108.8" y="248.8" width="3.7" height="3.7" fill="none" stroke="#000" stroke-width="1.35"/>
<rect x="105.8" y="253.8" width="3.7" height="3.7" fill="none" stroke="#000" stroke-width="1.35"/>
<rect x="105.8" y="268.5" width="3.7" height="3.7" fill="none" stroke="#000" stroke-width="1.35"/>
<path d="M101.6 249.4L113.6 249.4" stroke="#000" stroke-width="1.4" fill="none"/>
<path d="M107.6 244.0L107.6 255.0" stroke="#000" stroke-width="1.4" fill="none"/>
<path d="M104.3 244.0L110.9 244.0" stroke="#000" stroke-width="1.4" fill="none"/>
<path d="M104.3 255.0L110.9 255.0" stroke="#000" stroke-width="1.4" fill="none"/>
<rect x="120.5" y="230.2" width="3.7" height="3.7" fill="none" stroke="#000" stroke-width="1.35"/>
<rect x="126.5" y="232.8" width="3.7" height="3.7" fill="none" stroke="#000" stroke-width="1.35"/>
<rect x="123.5" y="244.8" width="3.7" height="3.7" fill="none" stroke="#000" stroke-width="1.35"/>
<rect x="120.5" y="251.6" width="3.7" height="3.7" fill="none" stroke="#000" stroke-width="1.35"/>
<rect x="126.5" y="253.2" width="3.7" height="3.7" fill="none" stroke="#000" stroke-width="1.35"/>
<rect x="123.5" y="268.8" width="3.7" height="3.7" fill="none" stroke="#000" stroke-width="1.35"/>
<path d="M119.3 249.0L131.3 249.0" stroke="#000" stroke-width="1.4" fill="none"/>
<path d="M125.3 243.6L125.3 254.4" stroke="#000" stroke-width="1.4" fill="none"/>
<path d="M122.0 243.6L128.6 243.6" stroke="#000" stroke-width="1.4" fill="none"/>
<path d="M122.0 254.4L128.6 254.4" stroke="#000" stroke-width="1.4" fill="none"/>
<rect x="141.1" y="219.6" width="3.7" height="3.7" fill="none" stroke="#000" stroke-width="1.35"/>
<rect x="138.7" y="242.2" width="3.7" height="3.7" fill="none" stroke="#000" stroke-width="1.35"/>
<rect x="144.1" y="241.2" width="3.7" height="3.7" fill="none" stroke="#000" stroke-width="1.35"/>
<rect x="138.7" y="250.2" width="3.7" height="3.7" fill="none" stroke="#000" stroke-width="1.35"/>
<rect x="144.1" y="254.8" width="3.7" height="3.7" fill="none" stroke="#000" stroke-width="1.35"/>
<rect x="141.1" y="267.5" width="3.7" height="3.7" fill="none" stroke="#000" stroke-width="1.35"/>
<path d="M137.0 247.6L149.0 247.6" stroke="#000" stroke-width="1.4" fill="none"/>
<path d="M143.0 242.0L143.0 253.4" stroke="#000" stroke-width="1.4" fill="none"/>
<path d="M139.7 242.0L146.3 242.0" stroke="#000" stroke-width="1.4" fill="none"/>
<path d="M139.7 253.4L146.3 253.4" stroke="#000" stroke-width="1.4" fill="none"/>
<rect x="158.8" y="225.2" width="3.7" height="3.7" fill="none" stroke="#000" stroke-width="1.35"/>
<rect x="158.8" y="234.2" width="3.7" height="3.7" fill="none" stroke="#000" stroke-width="1.35"/>
<rect x="158.8" y="243.6" width="3.7" height="3.7" fill="none" stroke="#000" stroke-width="1.35"/>
<rect x="156.2" y="253.6" width="3.7" height="3.7" fill="none" stroke="#000" stroke-width="1.35"/>
<rect x="161.8" y="255.2" width="3.7" height="3.7" fill="none" stroke="#000" stroke-width="1.35"/>
<rect x="158.8" y="271.1" width="3.7" height="3.7" fill="none" stroke="#000" stroke-width="1.35"/>
<path d="M154.6 249.0L166.6 249.0" stroke="#000" stroke-width="1.4" fill="none"/>
<path d="M160.6 243.0L160.6 255.0" stroke="#000" stroke-width="1.4" fill="none"/>
<path d="M157.3 243.0L163.9 243.0" stroke="#000" stroke-width="1.4" fill="none"/>
<path d="M157.3 255.0L163.9 255.0" stroke="#000" stroke-width="1.4" fill="none"/>
<path d="M205.4 196.1L205.4 291.4" stroke="#000" stroke-width="1.15" fill="none"/>
<path d="M204.9 291.0L347.0 291.0" stroke="#000" stroke-width="1.15" fill="none"/>
<path d="M202.2 291.0L205.4 291.0" stroke="#000" stroke-width="1.15" fill="none"/>
<text x="201.8" y="294.0" font-size="8.0" text-anchor="end">0</text>
<path d="M202.2 259.5L205.4 259.5" stroke="#000" stroke-width="1.15" fill="none"/>
<text x="201.8" y="262.0" font-size="8.0" text-anchor="end">20</text>
<path d="M202.2 228.0L205.4 228.0" stroke="#000" stroke-width="1.15" fill="none"/>
<text x="201.8" y="231.0" font-size="8.0" text-anchor="end">40</text>
<path d="M202.2 196.5L205.4 196.5" stroke="#000" stroke-width="1.15" fill="none"/>
<text x="201.8" y="199.0" font-size="8.0" text-anchor="end">60</text>
<path d="M213.8 291.0L213.8 294.8" stroke="#000" stroke-width="1.15" fill="none"/>
<text x="212.5" y="297.2" font-size="8.0" text-anchor="start" transform="rotate(90 212.5 297.2)">DMSO</text>
<path d="M231.5 291.0L231.5 294.8" stroke="#000" stroke-width="1.15" fill="none"/>
<text x="232.1" y="302.1" font-size="8.0" text-anchor="middle">1.56</text>
<path d="M249.2 291.0L249.2 294.8" stroke="#000" stroke-width="1.15" fill="none"/>
<text x="249.8" y="302.1" font-size="8.0" text-anchor="middle">3.12</text>
<path d="M266.9 291.0L266.9 294.8" stroke="#000" stroke-width="1.15" fill="none"/>
<text x="267.5" y="302.1" font-size="8.0" text-anchor="middle">6.25</text>
<path d="M284.6 291.0L284.6 294.8" stroke="#000" stroke-width="1.15" fill="none"/>
<text x="285.2" y="302.1" font-size="8.0" text-anchor="middle">12.5</text>
<path d="M302.3 291.0L302.3 294.8" stroke="#000" stroke-width="1.15" fill="none"/>
<text x="302.9" y="302.1" font-size="8.0" text-anchor="middle">25</text>
<path d="M320.0 291.0L320.0 294.8" stroke="#000" stroke-width="1.15" fill="none"/>
<text x="320.6" y="302.1" font-size="8.0" text-anchor="middle">50</text>
<path d="M337.7 291.0L337.7 294.8" stroke="#000" stroke-width="1.15" fill="none"/>
<text x="338.3" y="302.1" font-size="8.0" text-anchor="middle">100</text>
<text x="275.2" y="314.4" font-size="7.9" text-anchor="middle">ascorbic acid (ng/ml)</text>
<text x="188.2" y="242.6" font-size="8.08" text-anchor="middle" transform="rotate(-90 188.2 242.6)">% KIR2DL2/3<tspan font-size="4.8" dy="-1.9">+</tspan><tspan dy="1.9"> NK cells (CD56<tspan font-size="4.6" dy="-1.9">dim</tspan><tspan dy="1.9">CD94</tspan><tspan font-size="4.6" dy="-1.9">high</tspan><tspan dy="1.9">)</tspan></tspan></text>
<rect x="212.4" y="220.6" width="3.7" height="3.7" fill="none" stroke="#000" stroke-width="1.35"/>
<rect x="212.4" y="241.2" width="3.7" height="3.7" fill="none" stroke="#000" stroke-width="1.35"/>
<rect x="209.0" y="252.2" width="3.7" height="3.7" fill="none" stroke="#000" stroke-width="1.35"/>
<rect x="215.0" y="257.5" width="3.7" height="3.7" fill="none" stroke="#000" stroke-width="1.35"/>
<rect x="215.0" y="265.5" width="3.7" height="3.7" fill="none" stroke="#000" stroke-width="1.35"/>
<rect x="209.4" y="270.1" width="3.7" height="3.7" fill="none" stroke="#000" stroke-width="1.35"/>
<path d="M207.8 252.6L219.8 252.6" stroke="#000" stroke-width="1.4" fill="none"/>
<path d="M213.8 245.0L213.8 260.0" stroke="#000" stroke-width="1.4" fill="none"/>
<path d="M210.5 245.0L217.1 245.0" stroke="#000" stroke-width="1.4" fill="none"/>
<path d="M210.5 260.0L217.1 260.0" stroke="#000" stroke-width="1.4" fill="none"/>
<rect x="230.1" y="221.2" width="3.7" height="3.7" fill="none" stroke="#000" stroke-width="1.35"/>
<rect x="230.1" y="241.2" width="3.7" height="3.7" fill="none" stroke="#000" stroke-width="1.35"/>
<rect x="230.1" y="249.2" width="3.7" height="3.7" fill="none" stroke="#000" stroke-width="1.35"/>
<rect x="230.1" y="259.8" width="3.7" height="3.7" fill="none" stroke="#000" stroke-width="1.35"/>
<rect x="233.1" y="265.5" width="3.7" height="3.7" fill="none" stroke="#000" stroke-width="1.35"/>
<rect x="227.1" y="269.8" width="3.7" height="3.7" fill="none" stroke="#000" stroke-width="1.35"/>
<path d="M225.5 252.6L237.5 252.6" stroke="#000" stroke-width="1.4" fill="none"/>
<path d="M231.5 245.4L231.5 260.0" stroke="#000" stroke-width="1.4" fill="none"/>
<path d="M228.2 245.4L234.8 245.4" stroke="#000" stroke-width="1.4" fill="none"/>
<path d="M228.2 260.0L234.8 260.0" stroke="#000" stroke-width="1.4" fill="none"/>
<rect x="247.4" y="220.8" width="3.7" height="3.7" fill="none" stroke="#000" stroke-width="1.35"/>
<rect x="247.4" y="238.6" width="3.7" height="3.7" fill="none" stroke="#000" stroke-width="1.35"/>
<rect x="247.4" y="249.2" width="3.7" height="3.7" fill="none" stroke="#000" stroke-width="1.35"/>
<rect x="244.6" y="259.5" width="3.7" height="3.7" fill="none" stroke="#000" stroke-width="1.35"/>
<rect x="250.4" y="263.8" width="3.7" height="3.7" fill="none" stroke="#000" stroke-width="1.35"/>
<rect x="247.4" y="271.1" width="3.7" height="3.7" fill="none" stroke="#000" stroke-width="1.35"/>
<path d="M243.2 252.4L255.2 252.4" stroke="#000" stroke-width="1.4" fill="none"/>
<path d="M249.2 245.0L249.2 259.6" stroke="#000" stroke-width="1.4" fill="none"/>
<path d="M245.9 245.0L252.5 245.0" stroke="#000" stroke-width="1.4" fill="none"/>
<path d="M245.9 259.6L252.5 259.6" stroke="#000" stroke-width="1.4" fill="none"/>
<rect x="265.4" y="219.6" width="3.7" height="3.7" fill="none" stroke="#000" stroke-width="1.35"/>
<rect x="265.4" y="238.6" width="3.7" height="3.7" fill="none" stroke="#000" stroke-width="1.35"/>
<rect x="265.4" y="249.6" width="3.7" height="3.7" fill="none" stroke="#000" stroke-width="1.35"/>
<rect x="265.4" y="257.1" width="3.7" height="3.7" fill="none" stroke="#000" stroke-width="1.35"/>
<rect x="268.4" y="262.8" width="3.7" height="3.7" fill="none" stroke="#000" stroke-width="1.35"/>
<rect x="262.6" y="267.8" width="3.7" height="3.7" fill="none" stroke="#000" stroke-width="1.35"/>
<path d="M260.9 251.4L272.9 251.4" stroke="#000" stroke-width="1.4" fill="none"/>
<path d="M266.9 244.4L266.9 258.4" stroke="#000" stroke-width="1.4" fill="none"/>
<path d="M263.6 244.4L270.2 244.4" stroke="#000" stroke-width="1.4" fill="none"/>
<path d="M263.6 258.4L270.2 258.4" stroke="#000" stroke-width="1.4" fill="none"/>
<rect x="282.8" y="216.8" width="3.7" height="3.7" fill="none" stroke="#000" stroke-width="1.35"/>
<rect x="282.8" y="238.6" width="3.7" height="3.7" fill="none" stroke="#000" stroke-width="1.35"/>
<rect x="282.8" y="245.2" width="3.7" height="3.7" fill="none" stroke="#000" stroke-width="1.35"/>
<rect x="279.8" y="256.8" width="3.7" height="3.7" fill="none" stroke="#000" stroke-width="1.35"/>
<rect x="285.4" y="260.8" width="3.7" height="3.7" fill="none" stroke="#000" stroke-width="1.35"/>
<rect x="282.8" y="266.5" width="3.7" height="3.7" fill="none" stroke="#000" stroke-width="1.35"/>
<path d="M278.6 249.4L290.6 249.4" stroke="#000" stroke-width="1.4" fill="none"/>
<path d="M284.6 242.6L284.6 256.4" stroke="#000" stroke-width="1.4" fill="none"/>
<path d="M281.3 242.6L287.9 242.6" stroke="#000" stroke-width="1.4" fill="none"/>
<path d="M281.3 256.4L287.9 256.4" stroke="#000" stroke-width="1.4" fill="none"/>
<circle cx="302.3" cy="218.0" r="1.8" fill="none" stroke="#000" stroke-width="1.35"/>
<circle cx="302.3" cy="239.4" r="1.8" fill="none" stroke="#000" stroke-width="1.35"/>
<circle cx="302.3" cy="246.0" r="1.8" fill="none" stroke="#000" stroke-width="1.35"/>
<circle cx="302.3" cy="259.0" r="1.8" fill="none" stroke="#000" stroke-width="1.35"/>
<circle cx="305.3" cy="263.4" r="1.8" fill="none" stroke="#000" stroke-width="1.35"/>
<circle cx="299.5" cy="267.4" r="1.8" fill="none" stroke="#000" stroke-width="1.35"/>
<path d="M296.3 249.0L308.3 249.0" stroke="#000" stroke-width="1.4" fill="none"/>
<path d="M302.3 241.4L302.3 256.4" stroke="#000" stroke-width="1.4" fill="none"/>
<path d="M299.0 241.4L305.6 241.4" stroke="#000" stroke-width="1.4" fill="none"/>
<path d="M299.0 256.4L305.6 256.4" stroke="#000" stroke-width="1.4" fill="none"/>
<rect x="318.1" y="210.8" width="3.7" height="3.7" fill="none" stroke="#000" stroke-width="1.35"/>
<rect x="318.1" y="236.8" width="3.7" height="3.7" fill="none" stroke="#000" stroke-width="1.35"/>
<rect x="318.1" y="242.8" width="3.7" height="3.7" fill="none" stroke="#000" stroke-width="1.35"/>
<rect x="318.1" y="255.2" width="3.7" height="3.7" fill="none" stroke="#000" stroke-width="1.35"/>
<rect x="321.5" y="261.1" width="3.7" height="3.7" fill="none" stroke="#000" stroke-width="1.35"/>
<rect x="315.5" y="265.1" width="3.7" height="3.7" fill="none" stroke="#000" stroke-width="1.35"/>
<path d="M314.0 247.0L326.0 247.0" stroke="#000" stroke-width="1.4" fill="none"/>
<path d="M320.0 239.4L320.0 255.0" stroke="#000" stroke-width="1.4" fill="none"/>
<path d="M316.7 239.4L323.3 239.4" stroke="#000" stroke-width="1.4" fill="none"/>
<path d="M316.7 255.0L323.3 255.0" stroke="#000" stroke-width="1.4" fill="none"/>
<rect x="335.8" y="213.8" width="3.7" height="3.7" fill="none" stroke="#000" stroke-width="1.35"/>
<rect x="338.8" y="235.8" width="3.7" height="3.7" fill="none" stroke="#000" stroke-width="1.35"/>
<rect x="333.2" y="240.6" width="3.7" height="3.7" fill="none" stroke="#000" stroke-width="1.35"/>
<rect x="335.8" y="257.8" width="3.7" height="3.7" fill="none" stroke="#000" stroke-width="1.35"/>
<rect x="338.8" y="262.8" width="3.7" height="3.7" fill="none" stroke="#000" stroke-width="1.35"/>
<rect x="333.2" y="267.1" width="3.7" height="3.7" fill="none" stroke="#000" stroke-width="1.35"/>
<path d="M331.7 248.0L343.7 248.0" stroke="#000" stroke-width="1.4" fill="none"/>
<path d="M337.7 240.0L337.7 256.0" stroke="#000" stroke-width="1.4" fill="none"/>
<path d="M334.4 240.0L341.0 240.0" stroke="#000" stroke-width="1.4" fill="none"/>
<path d="M334.4 256.0L341.0 256.0" stroke="#000" stroke-width="1.4" fill="none"/>
<path d="M377.6 196.1L377.6 291.4" stroke="#000" stroke-width="1.15" fill="none"/>
<path d="M377.1 291.0L520.0 291.0" stroke="#000" stroke-width="1.15" fill="none"/>
<path d="M374.3 291.0L377.6 291.0" stroke="#000" stroke-width="1.15" fill="none"/>
<text x="373.9" y="294.0" font-size="8.0" text-anchor="end">0</text>
<path d="M374.3 259.5L377.6 259.5" stroke="#000" stroke-width="1.15" fill="none"/>
<text x="373.9" y="262.0" font-size="8.0" text-anchor="end">10</text>
<path d="M374.3 228.0L377.6 228.0" stroke="#000" stroke-width="1.15" fill="none"/>
<text x="373.9" y="231.0" font-size="8.0" text-anchor="end">20</text>
<path d="M374.3 196.5L377.6 196.5" stroke="#000" stroke-width="1.15" fill="none"/>
<text x="373.9" y="199.0" font-size="8.0" text-anchor="end">30</text>
<path d="M386.6 291.0L386.6 294.8" stroke="#000" stroke-width="1.15" fill="none"/>
<text x="385.5" y="297.2" font-size="8.0" text-anchor="start" transform="rotate(90 385.5 297.2)">DMSO</text>
<path d="M404.2 291.0L404.2 294.8" stroke="#000" stroke-width="1.15" fill="none"/>
<text x="404.9" y="302.1" font-size="8.0" text-anchor="middle">1.56</text>
<path d="M421.9 291.0L421.9 294.8" stroke="#000" stroke-width="1.15" fill="none"/>
<text x="422.6" y="302.1" font-size="8.0" text-anchor="middle">3.12</text>
<path d="M439.5 291.0L439.5 294.8" stroke="#000" stroke-width="1.15" fill="none"/>
<text x="440.2" y="302.1" font-size="8.0" text-anchor="middle">6.25</text>
<path d="M457.2 291.0L457.2 294.8" stroke="#000" stroke-width="1.15" fill="none"/>
<text x="457.9" y="302.1" font-size="8.0" text-anchor="middle">12.5</text>
<path d="M474.8 291.0L474.8 294.8" stroke="#000" stroke-width="1.15" fill="none"/>
<text x="475.5" y="302.1" font-size="8.0" text-anchor="middle">25</text>
<path d="M492.4 291.0L492.4 294.8" stroke="#000" stroke-width="1.15" fill="none"/>
<text x="493.1" y="302.1" font-size="8.0" text-anchor="middle">50</text>
<path d="M510.1 291.0L510.1 294.8" stroke="#000" stroke-width="1.15" fill="none"/>
<text x="510.8" y="302.1" font-size="8.0" text-anchor="middle">100</text>
<text x="448.9" y="314.4" font-size="7.9" text-anchor="middle">ascorbic acid (ng/ml)</text>
<text x="361.2" y="242.6" font-size="8.08" text-anchor="middle" transform="rotate(-90 361.2 242.6)">% KIR3DL1<tspan font-size="4.8" dy="-1.9">+</tspan><tspan dy="1.9"> NK cells (CD56<tspan font-size="4.6" dy="-1.9">dim</tspan><tspan dy="1.9">CD94</tspan><tspan font-size="4.6" dy="-1.9">high</tspan><tspan dy="1.9">)</tspan></tspan></text>
<rect x="384.8" y="202.8" width="3.7" height="3.7" fill="none" stroke="#000" stroke-width="1.35"/>
<rect x="384.8" y="255.5" width="3.7" height="3.7" fill="none" stroke="#000" stroke-width="1.35"/>
<rect x="384.8" y="264.8" width="3.7" height="3.7" fill="none" stroke="#000" stroke-width="1.35"/>
<rect x="384.8" y="275.8" width="3.7" height="3.7" fill="none" stroke="#000" stroke-width="1.35"/>
<path d="M380.6 251.4L392.6 251.4" stroke="#000" stroke-width="1.4" fill="none"/>
<path d="M386.6 235.4L386.6 268.0" stroke="#000" stroke-width="1.4" fill="none"/>
<path d="M383.3 235.4L389.9 235.4" stroke="#000" stroke-width="1.4" fill="none"/>
<path d="M383.3 268.0L389.9 268.0" stroke="#000" stroke-width="1.4" fill="none"/>
<rect x="402.4" y="212.6" width="3.7" height="3.7" fill="none" stroke="#000" stroke-width="1.35"/>
<rect x="402.4" y="255.5" width="3.7" height="3.7" fill="none" stroke="#000" stroke-width="1.35"/>
<rect x="405.4" y="271.1" width="3.7" height="3.7" fill="none" stroke="#000" stroke-width="1.35"/>
<rect x="399.8" y="275.5" width="3.7" height="3.7" fill="none" stroke="#000" stroke-width="1.35"/>
<path d="M398.2 255.6L410.2 255.6" stroke="#000" stroke-width="1.4" fill="none"/>
<path d="M404.2 241.0L404.2 269.6" stroke="#000" stroke-width="1.4" fill="none"/>
<path d="M400.9 241.0L407.5 241.0" stroke="#000" stroke-width="1.4" fill="none"/>
<path d="M400.9 269.6L407.5 269.6" stroke="#000" stroke-width="1.4" fill="none"/>
<rect x="420.0" y="210.6" width="3.7" height="3.7" fill="none" stroke="#000" stroke-width="1.35"/>
<rect x="420.0" y="257.8" width="3.7" height="3.7" fill="none" stroke="#000" stroke-width="1.35"/>
<rect x="422.6" y="271.5" width="3.7" height="3.7" fill="none" stroke="#000" stroke-width="1.35"/>
<rect x="417.0" y="276.8" width="3.7" height="3.7" fill="none" stroke="#000" stroke-width="1.35"/>
<path d="M415.9 256.0L427.9 256.0" stroke="#000" stroke-width="1.4" fill="none"/>
<path d="M421.9 240.6L421.9 271.0" stroke="#000" stroke-width="1.4" fill="none"/>
<path d="M418.6 240.6L425.2 240.6" stroke="#000" stroke-width="1.4" fill="none"/>
<path d="M418.6 271.0L425.2 271.0" stroke="#000" stroke-width="1.4" fill="none"/>
<rect x="437.7" y="207.8" width="3.7" height="3.7" fill="none" stroke="#000" stroke-width="1.35"/>
<rect x="437.7" y="252.6" width="3.7" height="3.7" fill="none" stroke="#000" stroke-width="1.35"/>
<rect x="440.7" y="270.1" width="3.7" height="3.7" fill="none" stroke="#000" stroke-width="1.35"/>
<rect x="434.7" y="275.1" width="3.7" height="3.7" fill="none" stroke="#000" stroke-width="1.35"/>
<path d="M433.5 253.0L445.5 253.0" stroke="#000" stroke-width="1.4" fill="none"/>
<path d="M439.5 237.6L439.5 268.4" stroke="#000" stroke-width="1.4" fill="none"/>
<path d="M436.2 237.6L442.8 237.6" stroke="#000" stroke-width="1.4" fill="none"/>
<path d="M436.2 268.4L442.8 268.4" stroke="#000" stroke-width="1.4" fill="none"/>
<rect x="455.3" y="203.6" width="3.7" height="3.7" fill="none" stroke="#000" stroke-width="1.35"/>
<rect x="455.3" y="250.8" width="3.7" height="3.7" fill="none" stroke="#000" stroke-width="1.35"/>
<rect x="458.3" y="271.1" width="3.7" height="3.7" fill="none" stroke="#000" stroke-width="1.35"/>
<rect x="452.7" y="275.1" width="3.7" height="3.7" fill="none" stroke="#000" stroke-width="1.35"/>
<path d="M451.2 251.6L463.2 251.6" stroke="#000" stroke-width="1.4" fill="none"/>
<path d="M457.2 235.4L457.2 268.0" stroke="#000" stroke-width="1.4" fill="none"/>
<path d="M453.9 235.4L460.5 235.4" stroke="#000" stroke-width="1.4" fill="none"/>
<path d="M453.9 268.0L460.5 268.0" stroke="#000" stroke-width="1.4" fill="none"/>
<rect x="472.9" y="203.6" width="3.7" height="3.7" fill="none" stroke="#000" stroke-width="1.35"/>
<rect x="472.9" y="250.2" width="3.7" height="3.7" fill="none" stroke="#000" stroke-width="1.35"/>
<rect x="475.9" y="271.8" width="3.7" height="3.7" fill="none" stroke="#000" stroke-width="1.35"/>
<rect x="470.3" y="273.5" width="3.7" height="3.7" fill="none" stroke="#000" stroke-width="1.35"/>
<path d="M468.8 251.4L480.8 251.4" stroke="#000" stroke-width="1.4" fill="none"/>
<path d="M474.8 235.4L474.8 267.6" stroke="#000" stroke-width="1.4" fill="none"/>
<path d="M471.5 235.4L478.1 235.4" stroke="#000" stroke-width="1.4" fill="none"/>
<path d="M471.5 267.6L478.1 267.6" stroke="#000" stroke-width="1.4" fill="none"/>
<rect x="490.6" y="222.6" width="3.7" height="3.7" fill="none" stroke="#000" stroke-width="1.35"/>
<rect x="490.6" y="250.8" width="3.7" height="3.7" fill="none" stroke="#000" stroke-width="1.35"/>
<rect x="493.6" y="268.5" width="3.7" height="3.7" fill="none" stroke="#000" stroke-width="1.35"/>
<rect x="487.8" y="269.5" width="3.7" height="3.7" fill="none" stroke="#000" stroke-width="1.35"/>
<path d="M486.4 254.6L498.4 254.6" stroke="#000" stroke-width="1.4" fill="none"/>
<path d="M492.4 243.6L492.4 265.6" stroke="#000" stroke-width="1.4" fill="none"/>
<path d="M489.1 243.6L495.7 243.6" stroke="#000" stroke-width="1.4" fill="none"/>
<path d="M489.1 265.6L495.7 265.6" stroke="#000" stroke-width="1.4" fill="none"/>
<rect x="508.2" y="207.6" width="3.7" height="3.7" fill="none" stroke="#000" stroke-width="1.35"/>
<rect x="508.2" y="242.6" width="3.7" height="3.7" fill="none" stroke="#000" stroke-width="1.35"/>
<rect x="508.2" y="265.1" width="3.7" height="3.7" fill="none" stroke="#000" stroke-width="1.35"/>
<rect x="508.2" y="272.1" width="3.7" height="3.7" fill="none" stroke="#000" stroke-width="1.35"/>
<path d="M504.1 249.0L516.1 249.0" stroke="#000" stroke-width="1.4" fill="none"/>
<path d="M510.1 234.0L510.1 263.0" stroke="#000" stroke-width="1.4" fill="none"/>
<path d="M506.8 234.0L513.4 234.0" stroke="#000" stroke-width="1.4" fill="none"/>
<path d="M506.8 263.0L513.4 263.0" stroke="#000" stroke-width="1.4" fill="none"/>
<path d="M28.0 366.2L28.0 461.4" stroke="#000" stroke-width="1.15" fill="none"/>
<path d="M27.5 461.0L169.6 461.0" stroke="#000" stroke-width="1.15" fill="none"/>
<path d="M24.4 461.0L28.0 461.0" stroke="#000" stroke-width="1.15" fill="none"/>
<text x="24.0" y="464.0" font-size="8.0" text-anchor="end">0</text>
<path d="M24.4 437.4L28.0 437.4" stroke="#000" stroke-width="1.15" fill="none"/>
<text x="24.0" y="440.0" font-size="8.0" text-anchor="end">20</text>
<path d="M24.4 413.8L28.0 413.8" stroke="#000" stroke-width="1.15" fill="none"/>
<text x="24.0" y="416.0" font-size="8.0" text-anchor="end">40</text>
<path d="M24.4 390.2L28.0 390.2" stroke="#000" stroke-width="1.15" fill="none"/>
<text x="24.0" y="393.0" font-size="8.0" text-anchor="end">60</text>
<path d="M24.4 366.6L28.0 366.6" stroke="#000" stroke-width="1.15" fill="none"/>
<text x="24.0" y="369.0" font-size="8.0" text-anchor="end">80</text>
<path d="M37.0 461.0L37.0 464.8" stroke="#000" stroke-width="1.15" fill="none"/>
<text x="36.0" y="467.2" font-size="8.0" text-anchor="start" transform="rotate(90 36.0 467.2)">DMSO</text>
<path d="M54.7 461.0L54.7 464.8" stroke="#000" stroke-width="1.15" fill="none"/>
<text x="55.5" y="472.1" font-size="8.0" text-anchor="middle">1.56</text>
<path d="M72.3 461.0L72.3 464.8" stroke="#000" stroke-width="1.15" fill="none"/>
<text x="73.1" y="472.1" font-size="8.0" text-anchor="middle">3.12</text>
<path d="M90.0 461.0L90.0 464.8" stroke="#000" stroke-width="1.15" fill="none"/>
<text x="90.8" y="472.1" font-size="8.0" text-anchor="middle">6.25</text>
<path d="M107.6 461.0L107.6 464.8" stroke="#000" stroke-width="1.15" fill="none"/>
<text x="108.4" y="472.1" font-size="8.0" text-anchor="middle">12.5</text>
<path d="M125.3 461.0L125.3 464.8" stroke="#000" stroke-width="1.15" fill="none"/>
<text x="126.1" y="472.1" font-size="8.0" text-anchor="middle">25</text>
<path d="M143.0 461.0L143.0 464.8" stroke="#000" stroke-width="1.15" fill="none"/>
<text x="143.8" y="472.1" font-size="8.0" text-anchor="middle">50</text>
<path d="M160.6 461.0L160.6 464.8" stroke="#000" stroke-width="1.15" fill="none"/>
<text x="161.4" y="472.1" font-size="8.0" text-anchor="middle">100</text>
<text x="100.0" y="484.4" font-size="7.9" text-anchor="middle">ascorbic acid (ng/ml)</text>
<text x="12.0" y="414.5" font-size="8.13" text-anchor="middle" transform="rotate(-90 12.0 414.5)">% KIR2DL1<tspan font-size="4.8" dy="-1.9">+</tspan><tspan dy="1.9"> NK cells (CD56<tspan font-size="4.6" dy="-1.9">dim</tspan><tspan dy="1.9">CD94</tspan><tspan font-size="4.6" dy="-1.9">low</tspan><tspan dy="1.9">)</tspan></tspan></text>
<path d="M37.00 372.85L38.85 376.19L35.15 376.19Z" fill="none" stroke="#000" stroke-width="1.2" stroke-linejoin="round"/>
<path d="M34.40 400.05L36.25 403.39L32.55 403.39Z" fill="none" stroke="#000" stroke-width="1.2" stroke-linejoin="round"/>
<path d="M40.00 402.85L41.85 406.19L38.15 406.19Z" fill="none" stroke="#000" stroke-width="1.2" stroke-linejoin="round"/>
<path d="M34.40 419.05L36.25 422.39L32.55 422.39Z" fill="none" stroke="#000" stroke-width="1.2" stroke-linejoin="round"/>
<path d="M40.00 419.05L41.85 422.39L38.15 422.39Z" fill="none" stroke="#000" stroke-width="1.2" stroke-linejoin="round"/>
<path d="M37.00 421.45L38.85 424.79L35.15 424.79Z" fill="none" stroke="#000" stroke-width="1.2" stroke-linejoin="round"/>
<path d="M31.0 407.4L43.0 407.4" stroke="#000" stroke-width="1.4" fill="none"/>
<path d="M37.0 399.4L37.0 415.0" stroke="#000" stroke-width="1.4" fill="none"/>
<path d="M33.7 399.4L40.3 399.4" stroke="#000" stroke-width="1.4" fill="none"/>
<path d="M33.7 415.0L40.3 415.0" stroke="#000" stroke-width="1.4" fill="none"/>
<path d="M54.66 372.85L56.51 376.19L52.81 376.19Z" fill="none" stroke="#000" stroke-width="1.2" stroke-linejoin="round"/>
<path d="M53.06 401.45L54.91 404.79L51.21 404.79Z" fill="none" stroke="#000" stroke-width="1.2" stroke-linejoin="round"/>
<path d="M58.06 405.45L59.91 408.79L56.21 408.79Z" fill="none" stroke="#000" stroke-width="1.2" stroke-linejoin="round"/>
<path d="M57.66 418.85L59.51 422.19L55.81 422.19Z" fill="none" stroke="#000" stroke-width="1.2" stroke-linejoin="round"/>
<path d="M52.06 424.05L53.91 427.39L50.21 427.39Z" fill="none" stroke="#000" stroke-width="1.2" stroke-linejoin="round"/>
<path d="M48.7 405.0L60.7 405.0" stroke="#000" stroke-width="1.4" fill="none"/>
<path d="M54.7 397.6L54.7 412.4" stroke="#000" stroke-width="1.4" fill="none"/>
<path d="M51.4 397.6L58.0 397.6" stroke="#000" stroke-width="1.4" fill="none"/>
<path d="M51.4 412.4L58.0 412.4" stroke="#000" stroke-width="1.4" fill="none"/>
<path d="M72.32 374.85L74.17 378.19L70.47 378.19Z" fill="none" stroke="#000" stroke-width="1.2" stroke-linejoin="round"/>
<path d="M72.32 397.85L74.17 401.19L70.47 401.19Z" fill="#000" stroke="#000" stroke-width="1.2" stroke-linejoin="round"/>
<path d="M69.52 401.85L71.37 405.19L67.67 405.19Z" fill="none" stroke="#000" stroke-width="1.2" stroke-linejoin="round"/>
<path d="M74.92 407.45L76.77 410.79L73.07 410.79Z" fill="none" stroke="#000" stroke-width="1.2" stroke-linejoin="round"/>
<path d="M69.52 418.45L71.37 421.79L67.67 421.79Z" fill="none" stroke="#000" stroke-width="1.2" stroke-linejoin="round"/>
<path d="M74.92 417.45L76.77 420.79L73.07 420.79Z" fill="none" stroke="#000" stroke-width="1.2" stroke-linejoin="round"/>
<path d="M66.3 404.4L78.3 404.4" stroke="#000" stroke-width="1.4" fill="none"/>
<path d="M72.3 398.0L72.3 411.0" stroke="#000" stroke-width="1.4" fill="none"/>
<path d="M69.0 398.0L75.6 398.0" stroke="#000" stroke-width="1.4" fill="none"/>
<path d="M69.0 411.0L75.6 411.0" stroke="#000" stroke-width="1.4" fill="none"/>
<path d="M89.98 374.45L91.83 377.79L88.13 377.79Z" fill="none" stroke="#000" stroke-width="1.2" stroke-linejoin="round"/>
<path d="M89.98 400.05L91.83 403.39L88.13 403.39Z" fill="none" stroke="#000" stroke-width="1.2" stroke-linejoin="round"/>
<path d="M87.38 403.45L89.23 406.79L85.53 406.79Z" fill="none" stroke="#000" stroke-width="1.2" stroke-linejoin="round"/>
<path d="M92.38 407.45L94.23 410.79L90.53 410.79Z" fill="none" stroke="#000" stroke-width="1.2" stroke-linejoin="round"/>
<path d="M92.38 419.05L94.23 422.39L90.53 422.39Z" fill="none" stroke="#000" stroke-width="1.2" stroke-linejoin="round"/>
<path d="M86.98 421.05L88.83 424.39L85.13 424.39Z" fill="none" stroke="#000" stroke-width="1.2" stroke-linejoin="round"/>
<path d="M84.0 405.0L96.0 405.0" stroke="#000" stroke-width="1.4" fill="none"/>
<path d="M90.0 398.6L90.0 412.0" stroke="#000" stroke-width="1.4" fill="none"/>
<path d="M86.7 398.6L93.3 398.6" stroke="#000" stroke-width="1.4" fill="none"/>
<path d="M86.7 412.0L93.3 412.0" stroke="#000" stroke-width="1.4" fill="none"/>
<path d="M107.64 376.05L109.49 379.39L105.79 379.39Z" fill="none" stroke="#000" stroke-width="1.2" stroke-linejoin="round"/>
<path d="M107.64 398.45L109.49 401.79L105.79 401.79Z" fill="none" stroke="#000" stroke-width="1.2" stroke-linejoin="round"/>
<path d="M105.04 403.05L106.89 406.39L103.19 406.39Z" fill="none" stroke="#000" stroke-width="1.2" stroke-linejoin="round"/>
<path d="M110.44 407.45L112.29 410.79L108.59 410.79Z" fill="none" stroke="#000" stroke-width="1.2" stroke-linejoin="round"/>
<path d="M110.44 418.45L112.29 421.79L108.59 421.79Z" fill="none" stroke="#000" stroke-width="1.2" stroke-linejoin="round"/>
<path d="M105.04 421.45L106.89 424.79L103.19 424.79Z" fill="none" stroke="#000" stroke-width="1.2" stroke-linejoin="round"/>
<path d="M101.6 405.0L113.6 405.0" stroke="#000" stroke-width="1.4" fill="none"/>
<path d="M107.6 399.0L107.6 411.6" stroke="#000" stroke-width="1.4" fill="none"/>
<path d="M104.3 399.0L110.9 399.0" stroke="#000" stroke-width="1.4" fill="none"/>
<path d="M104.3 411.6L110.9 411.6" stroke="#000" stroke-width="1.4" fill="none"/>
<path d="M125.30 372.45L127.15 375.79L123.45 375.79Z" fill="none" stroke="#000" stroke-width="1.2" stroke-linejoin="round"/>
<path d="M125.30 396.45L127.15 399.79L123.45 399.79Z" fill="none" stroke="#000" stroke-width="1.2" stroke-linejoin="round"/>
<path d="M122.90 402.45L124.75 405.79L121.05 405.79Z" fill="none" stroke="#000" stroke-width="1.2" stroke-linejoin="round"/>
<path d="M128.30 407.45L130.15 410.79L126.45 410.79Z" fill="none" stroke="#000" stroke-width="1.2" stroke-linejoin="round"/>
<path d="M128.30 418.05L130.15 421.39L126.45 421.39Z" fill="none" stroke="#000" stroke-width="1.2" stroke-linejoin="round"/>
<path d="M122.30 419.45L124.15 422.79L120.45 422.79Z" fill="none" stroke="#000" stroke-width="1.2" stroke-linejoin="round"/>
<path d="M119.3 404.0L131.3 404.0" stroke="#000" stroke-width="1.4" fill="none"/>
<path d="M125.3 397.4L125.3 411.0" stroke="#000" stroke-width="1.4" fill="none"/>
<path d="M122.0 397.4L128.6 397.4" stroke="#000" stroke-width="1.4" fill="none"/>
<path d="M122.0 411.0L128.6 411.0" stroke="#000" stroke-width="1.4" fill="none"/>
<path d="M142.96 372.45L144.81 375.79L141.11 375.79Z" fill="none" stroke="#000" stroke-width="1.2" stroke-linejoin="round"/>
<path d="M142.96 394.95L144.81 398.29L141.11 398.29Z" fill="#000" stroke="#000" stroke-width="1.2" stroke-linejoin="round"/>
<path d="M142.96 401.45L144.81 404.79L141.11 404.79Z" fill="none" stroke="#000" stroke-width="1.2" stroke-linejoin="round"/>
<path d="M142.96 407.45L144.81 410.79L141.11 410.79Z" fill="#000" stroke="#000" stroke-width="1.2" stroke-linejoin="round"/>
<path d="M145.96 419.05L147.81 422.39L144.11 422.39Z" fill="none" stroke="#000" stroke-width="1.2" stroke-linejoin="round"/>
<path d="M140.36 420.45L142.21 423.79L138.51 423.79Z" fill="none" stroke="#000" stroke-width="1.2" stroke-linejoin="round"/>
<path d="M137.0 404.0L149.0 404.0" stroke="#000" stroke-width="1.4" fill="none"/>
<path d="M143.0 397.0L143.0 411.0" stroke="#000" stroke-width="1.4" fill="none"/>
<path d="M139.7 397.0L146.3 397.0" stroke="#000" stroke-width="1.4" fill="none"/>
<path d="M139.7 411.0L146.3 411.0" stroke="#000" stroke-width="1.4" fill="none"/>
<path d="M160.62 373.85L162.47 377.19L158.77 377.19Z" fill="none" stroke="#000" stroke-width="1.2" stroke-linejoin="round"/>
<path d="M163.62 397.45L165.47 400.79L161.77 400.79Z" fill="none" stroke="#000" stroke-width="1.2" stroke-linejoin="round"/>
<path d="M158.02 403.05L159.87 406.39L156.17 406.39Z" fill="none" stroke="#000" stroke-width="1.2" stroke-linejoin="round"/>
<path d="M161.62 411.45L163.47 414.79L159.77 414.79Z" fill="#000" stroke="#000" stroke-width="1.2" stroke-linejoin="round"/>
<path d="M163.62 423.05L165.47 426.39L161.77 426.39Z" fill="none" stroke="#000" stroke-width="1.2" stroke-linejoin="round"/>
<path d="M158.02 425.85L159.87 429.19L156.17 429.19Z" fill="none" stroke="#000" stroke-width="1.2" stroke-linejoin="round"/>
<path d="M154.6 407.0L166.6 407.0" stroke="#000" stroke-width="1.4" fill="none"/>
<path d="M160.6 399.4L160.6 415.0" stroke="#000" stroke-width="1.4" fill="none"/>
<path d="M157.3 399.4L163.9 399.4" stroke="#000" stroke-width="1.4" fill="none"/>
<path d="M157.3 415.0L163.9 415.0" stroke="#000" stroke-width="1.4" fill="none"/>
<path d="M205.9 369.2L205.9 462.1" stroke="#000" stroke-width="1.15" fill="none"/>
<path d="M205.4 461.6L344.0 461.6" stroke="#000" stroke-width="1.15" fill="none"/>
<path d="M203.5 461.6L205.9 461.6" stroke="#000" stroke-width="1.15" fill="none"/>
<text x="203.3" y="464.0" font-size="8.0" text-anchor="end">0</text>
<path d="M203.5 443.2L205.9 443.2" stroke="#000" stroke-width="1.15" fill="none"/>
<text x="203.3" y="446.0" font-size="8.0" text-anchor="end">20</text>
<path d="M203.5 424.8L205.9 424.8" stroke="#000" stroke-width="1.15" fill="none"/>
<text x="203.3" y="427.0" font-size="8.0" text-anchor="end">40</text>
<path d="M203.5 406.4L205.9 406.4" stroke="#000" stroke-width="1.15" fill="none"/>
<text x="203.3" y="409.0" font-size="8.0" text-anchor="end">60</text>
<path d="M203.5 388.0L205.9 388.0" stroke="#000" stroke-width="1.15" fill="none"/>
<text x="203.3" y="391.0" font-size="8.0" text-anchor="end">80</text>
<path d="M203.5 369.6L205.9 369.6" stroke="#000" stroke-width="1.15" fill="none"/>
<text x="203.3" y="372.0" font-size="8.0" text-anchor="end">100</text>
<path d="M214.4 461.6L214.4 465.4" stroke="#000" stroke-width="1.15" fill="none"/>
<text x="213.0" y="467.8" font-size="8.0" text-anchor="start" transform="rotate(90 213.0 467.8)">DMSO</text>
<path d="M231.8 461.6L231.8 465.4" stroke="#000" stroke-width="1.15" fill="none"/>
<text x="232.3" y="472.2" font-size="8.0" text-anchor="middle">1.56</text>
<path d="M249.2 461.6L249.2 465.4" stroke="#000" stroke-width="1.15" fill="none"/>
<text x="249.7" y="472.2" font-size="8.0" text-anchor="middle">3.12</text>
<path d="M266.6 461.6L266.6 465.4" stroke="#000" stroke-width="1.15" fill="none"/>
<text x="267.1" y="472.2" font-size="8.0" text-anchor="middle">6.25</text>
<path d="M284.0 461.6L284.0 465.4" stroke="#000" stroke-width="1.15" fill="none"/>
<text x="284.5" y="472.2" font-size="8.0" text-anchor="middle">12.5</text>
<path d="M301.4 461.6L301.4 465.4" stroke="#000" stroke-width="1.15" fill="none"/>
<text x="301.9" y="472.2" font-size="8.0" text-anchor="middle">25</text>
<path d="M318.8 461.6L318.8 465.4" stroke="#000" stroke-width="1.15" fill="none"/>
<text x="319.3" y="472.2" font-size="8.0" text-anchor="middle">50</text>
<path d="M336.2 461.6L336.2 465.4" stroke="#000" stroke-width="1.15" fill="none"/>
<text x="336.7" y="472.2" font-size="8.0" text-anchor="middle">100</text>
<text x="274.8" y="484.5" font-size="7.9" text-anchor="middle">ascorbic acid (ng/ml)</text>
<text x="188.8" y="414.5" font-size="8.13" text-anchor="middle" transform="rotate(-90 188.8 414.5)">% KIR2DL2/3<tspan font-size="4.8" dy="-1.9">+</tspan><tspan dy="1.9"> NK cells (CD56<tspan font-size="4.6" dy="-1.9">dim</tspan><tspan dy="1.9">CD94</tspan><tspan font-size="4.6" dy="-1.9">low</tspan><tspan dy="1.9">)</tspan></tspan></text>
<path d="M214.40 386.85L216.25 390.19L212.55 390.19Z" fill="none" stroke="#000" stroke-width="1.2" stroke-linejoin="round"/>
<path d="M212.00 414.45L213.85 417.79L210.15 417.79Z" fill="none" stroke="#000" stroke-width="1.2" stroke-linejoin="round"/>
<path d="M217.00 414.05L218.85 417.39L215.15 417.39Z" fill="none" stroke="#000" stroke-width="1.2" stroke-linejoin="round"/>
<path d="M214.40 416.45L216.25 419.79L212.55 419.79Z" fill="#000" stroke="#000" stroke-width="1.2" stroke-linejoin="round"/>
<path d="M214.40 429.05L216.25 432.39L212.55 432.39Z" fill="none" stroke="#000" stroke-width="1.2" stroke-linejoin="round"/>
<path d="M214.40 436.05L216.25 439.39L212.55 439.39Z" fill="none" stroke="#000" stroke-width="1.2" stroke-linejoin="round"/>
<path d="M208.4 417.4L220.4 417.4" stroke="#000" stroke-width="1.4" fill="none"/>
<path d="M214.4 410.4L214.4 424.4" stroke="#000" stroke-width="1.4" fill="none"/>
<path d="M211.1 410.4L217.7 410.4" stroke="#000" stroke-width="1.4" fill="none"/>
<path d="M211.1 424.4L217.7 424.4" stroke="#000" stroke-width="1.4" fill="none"/>
<path d="M231.80 387.45L233.65 390.79L229.95 390.79Z" fill="none" stroke="#000" stroke-width="1.2" stroke-linejoin="round"/>
<path d="M228.80 413.45L230.65 416.79L226.95 416.79Z" fill="none" stroke="#000" stroke-width="1.2" stroke-linejoin="round"/>
<path d="M234.80 413.45L236.65 416.79L232.95 416.79Z" fill="none" stroke="#000" stroke-width="1.2" stroke-linejoin="round"/>
<path d="M231.80 415.45L233.65 418.79L229.95 418.79Z" fill="#000" stroke="#000" stroke-width="1.2" stroke-linejoin="round"/>
<path d="M231.80 420.45L233.65 423.79L229.95 423.79Z" fill="#000" stroke="#000" stroke-width="1.2" stroke-linejoin="round"/>
<path d="M231.80 434.45L233.65 437.79L229.95 437.79Z" fill="none" stroke="#000" stroke-width="1.2" stroke-linejoin="round"/>
<path d="M225.8 415.4L237.8 415.4" stroke="#000" stroke-width="1.4" fill="none"/>
<path d="M231.8 409.0L231.8 421.6" stroke="#000" stroke-width="1.4" fill="none"/>
<path d="M228.5 409.0L235.1 409.0" stroke="#000" stroke-width="1.4" fill="none"/>
<path d="M228.5 421.6L235.1 421.6" stroke="#000" stroke-width="1.4" fill="none"/>
<path d="M249.20 387.05L251.05 390.39L247.35 390.39Z" fill="none" stroke="#000" stroke-width="1.2" stroke-linejoin="round"/>
<path d="M246.80 413.45L248.65 416.79L244.95 416.79Z" fill="none" stroke="#000" stroke-width="1.2" stroke-linejoin="round"/>
<path d="M249.20 412.45L251.05 415.79L247.35 415.79Z" fill="none" stroke="#000" stroke-width="1.2" stroke-linejoin="round"/>
<path d="M251.80 419.85L253.65 423.19L249.95 423.19Z" fill="none" stroke="#000" stroke-width="1.2" stroke-linejoin="round"/>
<path d="M249.20 418.45L251.05 421.79L247.35 421.79Z" fill="none" stroke="#000" stroke-width="1.2" stroke-linejoin="round"/>
<path d="M249.20 434.85L251.05 438.19L247.35 438.19Z" fill="none" stroke="#000" stroke-width="1.2" stroke-linejoin="round"/>
<path d="M243.2 415.4L255.2 415.4" stroke="#000" stroke-width="1.4" fill="none"/>
<path d="M249.2 409.0L249.2 421.6" stroke="#000" stroke-width="1.4" fill="none"/>
<path d="M245.9 409.0L252.5 409.0" stroke="#000" stroke-width="1.4" fill="none"/>
<path d="M245.9 421.6L252.5 421.6" stroke="#000" stroke-width="1.4" fill="none"/>
<path d="M266.20 385.45L268.05 388.79L264.35 388.79Z" fill="none" stroke="#000" stroke-width="1.2" stroke-linejoin="round"/>
<path d="M263.60 414.05L265.45 417.39L261.75 417.39Z" fill="none" stroke="#000" stroke-width="1.2" stroke-linejoin="round"/>
<path d="M269.00 413.45L270.85 416.79L267.15 416.79Z" fill="none" stroke="#000" stroke-width="1.2" stroke-linejoin="round"/>
<path d="M267.60 419.85L269.45 423.19L265.75 423.19Z" fill="none" stroke="#000" stroke-width="1.2" stroke-linejoin="round"/>
<path d="M266.20 436.85L268.05 440.19L264.35 440.19Z" fill="none" stroke="#000" stroke-width="1.2" stroke-linejoin="round"/>
<path d="M260.6 415.6L272.6 415.6" stroke="#000" stroke-width="1.4" fill="none"/>
<path d="M266.6 408.6L266.6 422.0" stroke="#000" stroke-width="1.4" fill="none"/>
<path d="M263.3 408.6L269.9 408.6" stroke="#000" stroke-width="1.4" fill="none"/>
<path d="M263.3 422.0L269.9 422.0" stroke="#000" stroke-width="1.4" fill="none"/>
<path d="M284.00 385.85L285.85 389.19L282.15 389.19Z" fill="none" stroke="#000" stroke-width="1.2" stroke-linejoin="round"/>
<path d="M281.00 413.05L282.85 416.39L279.15 416.39Z" fill="none" stroke="#000" stroke-width="1.2" stroke-linejoin="round"/>
<path d="M286.40 413.05L288.25 416.39L284.55 416.39Z" fill="none" stroke="#000" stroke-width="1.2" stroke-linejoin="round"/>
<path d="M284.00 415.05L285.85 418.39L282.15 418.39Z" fill="none" stroke="#000" stroke-width="1.2" stroke-linejoin="round"/>
<path d="M286.40 417.05L288.25 420.39L284.55 420.39Z" fill="none" stroke="#000" stroke-width="1.2" stroke-linejoin="round"/>
<path d="M284.00 433.85L285.85 437.19L282.15 437.19Z" fill="none" stroke="#000" stroke-width="1.2" stroke-linejoin="round"/>
<path d="M278.0 414.6L290.0 414.6" stroke="#000" stroke-width="1.4" fill="none"/>
<path d="M284.0 408.0L284.0 420.6" stroke="#000" stroke-width="1.4" fill="none"/>
<path d="M280.7 408.0L287.3 408.0" stroke="#000" stroke-width="1.4" fill="none"/>
<path d="M280.7 420.6L287.3 420.6" stroke="#000" stroke-width="1.4" fill="none"/>
<path d="M301.40 385.85L303.25 389.19L299.55 389.19Z" fill="none" stroke="#000" stroke-width="1.2" stroke-linejoin="round"/>
<path d="M303.60 411.05L305.45 414.39L301.75 414.39Z" fill="none" stroke="#000" stroke-width="1.2" stroke-linejoin="round"/>
<path d="M298.40 413.45L300.25 416.79L296.55 416.79Z" fill="none" stroke="#000" stroke-width="1.2" stroke-linejoin="round"/>
<path d="M298.40 415.05L300.25 418.39L296.55 418.39Z" fill="none" stroke="#000" stroke-width="1.2" stroke-linejoin="round"/>
<path d="M303.60 419.85L305.45 423.19L301.75 423.19Z" fill="none" stroke="#000" stroke-width="1.2" stroke-linejoin="round"/>
<path d="M301.40 433.85L303.25 437.19L299.55 437.19Z" fill="none" stroke="#000" stroke-width="1.2" stroke-linejoin="round"/>
<path d="M295.4 414.6L307.4 414.6" stroke="#000" stroke-width="1.4" fill="none"/>
<path d="M301.4 407.6L301.4 420.6" stroke="#000" stroke-width="1.4" fill="none"/>
<path d="M298.1 407.6L304.7 407.6" stroke="#000" stroke-width="1.4" fill="none"/>
<path d="M298.1 420.6L304.7 420.6" stroke="#000" stroke-width="1.4" fill="none"/>
<path d="M318.80 384.85L320.65 388.19L316.95 388.19Z" fill="none" stroke="#000" stroke-width="1.2" stroke-linejoin="round"/>
<path d="M321.60 411.45L323.45 414.79L319.75 414.79Z" fill="none" stroke="#000" stroke-width="1.2" stroke-linejoin="round"/>
<path d="M316.20 413.45L318.05 416.79L314.35 416.79Z" fill="none" stroke="#000" stroke-width="1.2" stroke-linejoin="round"/>
<path d="M316.20 416.45L318.05 419.79L314.35 419.79Z" fill="none" stroke="#000" stroke-width="1.2" stroke-linejoin="round"/>
<path d="M321.60 419.85L323.45 423.19L319.75 423.19Z" fill="none" stroke="#000" stroke-width="1.2" stroke-linejoin="round"/>
<path d="M318.80 433.45L320.65 436.79L316.95 436.79Z" fill="none" stroke="#000" stroke-width="1.2" stroke-linejoin="round"/>
<path d="M312.8 414.6L324.8 414.6" stroke="#000" stroke-width="1.4" fill="none"/>
<path d="M318.8 408.0L318.8 421.0" stroke="#000" stroke-width="1.4" fill="none"/>
<path d="M315.5 408.0L322.1 408.0" stroke="#000" stroke-width="1.4" fill="none"/>
<path d="M315.5 421.0L322.1 421.0" stroke="#000" stroke-width="1.4" fill="none"/>
<path d="M336.20 385.85L338.05 389.19L334.35 389.19Z" fill="none" stroke="#000" stroke-width="1.2" stroke-linejoin="round"/>
<path d="M336.20 413.45L338.05 416.79L334.35 416.79Z" fill="none" stroke="#000" stroke-width="1.2" stroke-linejoin="round"/>
<path d="M338.80 419.05L340.65 422.39L336.95 422.39Z" fill="none" stroke="#000" stroke-width="1.2" stroke-linejoin="round"/>
<path d="M333.80 421.45L335.65 424.79L331.95 424.79Z" fill="none" stroke="#000" stroke-width="1.2" stroke-linejoin="round"/>
<path d="M336.20 424.05L338.05 427.39L334.35 427.39Z" fill="none" stroke="#000" stroke-width="1.2" stroke-linejoin="round"/>
<path d="M336.20 434.45L338.05 437.79L334.35 437.79Z" fill="none" stroke="#000" stroke-width="1.2" stroke-linejoin="round"/>
<path d="M330.2 418.0L342.2 418.0" stroke="#000" stroke-width="1.4" fill="none"/>
<path d="M336.2 411.0L336.2 425.0" stroke="#000" stroke-width="1.4" fill="none"/>
<path d="M332.9 411.0L339.5 411.0" stroke="#000" stroke-width="1.4" fill="none"/>
<path d="M332.9 425.0L339.5 425.0" stroke="#000" stroke-width="1.4" fill="none"/>
<path d="M378.0 367.8L378.0 462.2" stroke="#000" stroke-width="1.15" fill="none"/>
<path d="M377.5 461.8L520.0 461.8" stroke="#000" stroke-width="1.15" fill="none"/>
<path d="M374.6 461.8L378.0 461.8" stroke="#000" stroke-width="1.15" fill="none"/>
<text x="374.1" y="464.0" font-size="8.0" text-anchor="end">0</text>
<path d="M374.6 438.4L378.0 438.4" stroke="#000" stroke-width="1.15" fill="none"/>
<text x="374.1" y="441.0" font-size="8.0" text-anchor="end">20</text>
<path d="M374.6 415.0L378.0 415.0" stroke="#000" stroke-width="1.15" fill="none"/>
<text x="374.1" y="418.0" font-size="8.0" text-anchor="end">40</text>
<path d="M374.6 391.6L378.0 391.6" stroke="#000" stroke-width="1.15" fill="none"/>
<text x="374.1" y="394.0" font-size="8.0" text-anchor="end">60</text>
<path d="M374.6 368.2L378.0 368.2" stroke="#000" stroke-width="1.15" fill="none"/>
<text x="374.1" y="371.0" font-size="8.0" text-anchor="end">80</text>
<path d="M386.6 461.8L386.6 465.6" stroke="#000" stroke-width="1.15" fill="none"/>
<text x="385.5" y="468.0" font-size="8.0" text-anchor="start" transform="rotate(90 385.5 468.0)">DMSO</text>
<path d="M404.2 461.8L404.2 465.6" stroke="#000" stroke-width="1.15" fill="none"/>
<text x="404.9" y="472.1" font-size="8.0" text-anchor="middle">1.56</text>
<path d="M421.9 461.8L421.9 465.6" stroke="#000" stroke-width="1.15" fill="none"/>
<text x="422.6" y="472.1" font-size="8.0" text-anchor="middle">3.12</text>
<path d="M439.5 461.8L439.5 465.6" stroke="#000" stroke-width="1.15" fill="none"/>
<text x="440.2" y="472.1" font-size="8.0" text-anchor="middle">6.25</text>
<path d="M457.2 461.8L457.2 465.6" stroke="#000" stroke-width="1.15" fill="none"/>
<text x="457.9" y="472.1" font-size="8.0" text-anchor="middle">12.5</text>
<path d="M474.8 461.8L474.8 465.6" stroke="#000" stroke-width="1.15" fill="none"/>
<text x="475.5" y="472.1" font-size="8.0" text-anchor="middle">25</text>
<path d="M492.4 461.8L492.4 465.6" stroke="#000" stroke-width="1.15" fill="none"/>
<text x="493.1" y="472.1" font-size="8.0" text-anchor="middle">50</text>
<path d="M510.1 461.8L510.1 465.6" stroke="#000" stroke-width="1.15" fill="none"/>
<text x="510.8" y="472.1" font-size="8.0" text-anchor="middle">100</text>
<text x="447.8" y="484.3" font-size="7.9" text-anchor="middle">ascorbic acid (ng/ml)</text>
<text x="361.2" y="414.5" font-size="8.13" text-anchor="middle" transform="rotate(-90 361.2 414.5)">% KIR3DL1<tspan font-size="4.8" dy="-1.9">+</tspan><tspan dy="1.9"> NK cells (CD56<tspan font-size="4.6" dy="-1.9">dim</tspan><tspan dy="1.9">CD94</tspan><tspan font-size="4.6" dy="-1.9">low</tspan><tspan dy="1.9">)</tspan></tspan></text>
<path d="M384.00 397.45L385.85 400.79L382.15 400.79Z" fill="none" stroke="#000" stroke-width="1.2" stroke-linejoin="round"/>
<path d="M389.40 396.45L391.25 399.79L387.55 399.79Z" fill="none" stroke="#000" stroke-width="1.2" stroke-linejoin="round"/>
<path d="M386.60 432.45L388.45 435.79L384.75 435.79Z" fill="none" stroke="#000" stroke-width="1.2" stroke-linejoin="round"/>
<path d="M386.60 448.05L388.45 451.39L384.75 451.39Z" fill="none" stroke="#000" stroke-width="1.2" stroke-linejoin="round"/>
<path d="M380.6 420.4L392.6 420.4" stroke="#000" stroke-width="1.4" fill="none"/>
<path d="M386.6 407.4L386.6 433.0" stroke="#000" stroke-width="1.4" fill="none"/>
<path d="M383.3 407.4L389.9 407.4" stroke="#000" stroke-width="1.4" fill="none"/>
<path d="M383.3 433.0L389.9 433.0" stroke="#000" stroke-width="1.4" fill="none"/>
<path d="M401.64 397.45L403.49 400.79L399.79 400.79Z" fill="none" stroke="#000" stroke-width="1.2" stroke-linejoin="round"/>
<path d="M407.24 395.85L409.09 399.19L405.39 399.19Z" fill="none" stroke="#000" stroke-width="1.2" stroke-linejoin="round"/>
<path d="M404.24 430.45L406.09 433.79L402.39 433.79Z" fill="#000" stroke="#000" stroke-width="1.2" stroke-linejoin="round"/>
<path d="M404.24 449.05L406.09 452.39L402.39 452.39Z" fill="none" stroke="#000" stroke-width="1.2" stroke-linejoin="round"/>
<path d="M398.2 420.0L410.2 420.0" stroke="#000" stroke-width="1.4" fill="none"/>
<path d="M404.2 406.6L404.2 433.0" stroke="#000" stroke-width="1.4" fill="none"/>
<path d="M400.9 406.6L407.5 406.6" stroke="#000" stroke-width="1.4" fill="none"/>
<path d="M400.9 433.0L407.5 433.0" stroke="#000" stroke-width="1.4" fill="none"/>
<path d="M418.88 400.05L420.73 403.39L417.03 403.39Z" fill="none" stroke="#000" stroke-width="1.2" stroke-linejoin="round"/>
<path d="M424.48 395.45L426.33 398.79L422.63 398.79Z" fill="none" stroke="#000" stroke-width="1.2" stroke-linejoin="round"/>
<path d="M421.88 429.45L423.73 432.79L420.03 432.79Z" fill="#000" stroke="#000" stroke-width="1.2" stroke-linejoin="round"/>
<path d="M421.88 448.45L423.73 451.79L420.03 451.79Z" fill="none" stroke="#000" stroke-width="1.2" stroke-linejoin="round"/>
<path d="M415.9 419.6L427.9 419.6" stroke="#000" stroke-width="1.4" fill="none"/>
<path d="M421.9 407.0L421.9 432.4" stroke="#000" stroke-width="1.4" fill="none"/>
<path d="M418.6 407.0L425.2 407.0" stroke="#000" stroke-width="1.4" fill="none"/>
<path d="M418.6 432.4L425.2 432.4" stroke="#000" stroke-width="1.4" fill="none"/>
<path d="M436.72 395.85L438.57 399.19L434.87 399.19Z" fill="none" stroke="#000" stroke-width="1.2" stroke-linejoin="round"/>
<path d="M442.52 391.85L444.37 395.19L440.67 395.19Z" fill="none" stroke="#000" stroke-width="1.2" stroke-linejoin="round"/>
<path d="M439.52 431.85L441.37 435.19L437.67 435.19Z" fill="none" stroke="#000" stroke-width="1.2" stroke-linejoin="round"/>
<path d="M439.52 449.45L441.37 452.79L437.67 452.79Z" fill="none" stroke="#000" stroke-width="1.2" stroke-linejoin="round"/>
<path d="M433.5 419.0L445.5 419.0" stroke="#000" stroke-width="1.4" fill="none"/>
<path d="M439.5 404.4L439.5 433.0" stroke="#000" stroke-width="1.4" fill="none"/>
<path d="M436.2 404.4L442.8 404.4" stroke="#000" stroke-width="1.4" fill="none"/>
<path d="M436.2 433.0L442.8 433.0" stroke="#000" stroke-width="1.4" fill="none"/>
<path d="M457.16 396.85L459.01 400.19L455.31 400.19Z" fill="none" stroke="#000" stroke-width="1.2" stroke-linejoin="round"/>
<path d="M457.16 403.45L459.01 406.79L455.31 406.79Z" fill="none" stroke="#000" stroke-width="1.2" stroke-linejoin="round"/>
<path d="M457.16 433.85L459.01 437.19L455.31 437.19Z" fill="none" stroke="#000" stroke-width="1.2" stroke-linejoin="round"/>
<path d="M457.16 448.85L459.01 452.19L455.31 452.19Z" fill="none" stroke="#000" stroke-width="1.2" stroke-linejoin="round"/>
<path d="M451.2 422.0L463.2 422.0" stroke="#000" stroke-width="1.4" fill="none"/>
<path d="M457.2 410.0L457.2 435.0" stroke="#000" stroke-width="1.4" fill="none"/>
<path d="M453.9 410.0L460.5 410.0" stroke="#000" stroke-width="1.4" fill="none"/>
<path d="M453.9 435.0L460.5 435.0" stroke="#000" stroke-width="1.4" fill="none"/>
<path d="M472.20 397.05L474.05 400.39L470.35 400.39Z" fill="none" stroke="#000" stroke-width="1.2" stroke-linejoin="round"/>
<path d="M477.80 395.45L479.65 398.79L475.95 398.79Z" fill="none" stroke="#000" stroke-width="1.2" stroke-linejoin="round"/>
<path d="M474.80 429.45L476.65 432.79L472.95 432.79Z" fill="#000" stroke="#000" stroke-width="1.2" stroke-linejoin="round"/>
<path d="M474.80 450.45L476.65 453.79L472.95 453.79Z" fill="none" stroke="#000" stroke-width="1.2" stroke-linejoin="round"/>
<path d="M468.8 419.4L480.8 419.4" stroke="#000" stroke-width="1.4" fill="none"/>
<path d="M474.8 406.0L474.8 432.0" stroke="#000" stroke-width="1.4" fill="none"/>
<path d="M471.5 406.0L478.1 406.0" stroke="#000" stroke-width="1.4" fill="none"/>
<path d="M471.5 432.0L478.1 432.0" stroke="#000" stroke-width="1.4" fill="none"/>
<path d="M489.64 394.45L491.49 397.79L487.79 397.79Z" fill="none" stroke="#000" stroke-width="1.2" stroke-linejoin="round"/>
<path d="M495.44 391.05L497.29 394.39L493.59 394.39Z" fill="none" stroke="#000" stroke-width="1.2" stroke-linejoin="round"/>
<path d="M492.44 431.85L494.29 435.19L490.59 435.19Z" fill="none" stroke="#000" stroke-width="1.2" stroke-linejoin="round"/>
<path d="M492.44 448.45L494.29 451.79L490.59 451.79Z" fill="none" stroke="#000" stroke-width="1.2" stroke-linejoin="round"/>
<path d="M486.4 417.4L498.4 417.4" stroke="#000" stroke-width="1.4" fill="none"/>
<path d="M492.4 403.6L492.4 432.0" stroke="#000" stroke-width="1.4" fill="none"/>
<path d="M489.1 403.6L495.7 403.6" stroke="#000" stroke-width="1.4" fill="none"/>
<path d="M489.1 432.0L495.7 432.0" stroke="#000" stroke-width="1.4" fill="none"/>
<path d="M510.08 392.45L511.93 395.79L508.23 395.79Z" fill="none" stroke="#000" stroke-width="1.2" stroke-linejoin="round"/>
<path d="M510.08 398.85L511.93 402.19L508.23 402.19Z" fill="none" stroke="#000" stroke-width="1.2" stroke-linejoin="round"/>
<path d="M510.08 437.85L511.93 441.19L508.23 441.19Z" fill="none" stroke="#000" stroke-width="1.2" stroke-linejoin="round"/>
<path d="M510.08 450.85L511.93 454.19L508.23 454.19Z" fill="none" stroke="#000" stroke-width="1.2" stroke-linejoin="round"/>
<path d="M504.1 421.4L516.1 421.4" stroke="#000" stroke-width="1.4" fill="none"/>
<path d="M510.1 407.4L510.1 435.4" stroke="#000" stroke-width="1.4" fill="none"/>
<path d="M506.8 407.4L513.4 407.4" stroke="#000" stroke-width="1.4" fill="none"/>
<path d="M506.8 435.4L513.4 435.4" stroke="#000" stroke-width="1.4" fill="none"/>
<path d="M28.0 514.2L28.0 608.9" stroke="#000" stroke-width="1.15" fill="none"/>
<path d="M27.5 608.4L167.4 608.4" stroke="#000" stroke-width="1.15" fill="none"/>
<path d="M24.3 608.4L28.0 608.4" stroke="#000" stroke-width="1.15" fill="none"/>
<text x="23.9" y="611.0" font-size="8.0" text-anchor="end">0</text>
<path d="M24.3 585.0L28.0 585.0" stroke="#000" stroke-width="1.15" fill="none"/>
<text x="23.9" y="588.0" font-size="8.0" text-anchor="end">2</text>
<path d="M24.3 561.5L28.0 561.5" stroke="#000" stroke-width="1.15" fill="none"/>
<text x="23.9" y="564.0" font-size="8.0" text-anchor="end">4</text>
<path d="M24.3 538.1L28.0 538.1" stroke="#000" stroke-width="1.15" fill="none"/>
<text x="23.9" y="541.0" font-size="8.0" text-anchor="end">6</text>
<path d="M24.3 514.6L28.0 514.6" stroke="#000" stroke-width="1.15" fill="none"/>
<text x="23.9" y="517.0" font-size="8.0" text-anchor="end">8</text>
<text x="12.6" y="561.0" font-size="8.0" text-anchor="middle" transform="rotate(-90 12.6 561.0)">mRNA fold increase</text>
<path d="M33.6 608.4L33.6 611.2" stroke="#000" stroke-width="1.15" fill="none"/>
<path d="M42.2 608.4L42.2 611.2" stroke="#000" stroke-width="1.15" fill="none"/>
<path d="M50.7 608.4L50.7 611.2" stroke="#000" stroke-width="1.15" fill="none"/>
<path d="M59.3 608.4L59.3 611.2" stroke="#000" stroke-width="1.15" fill="none"/>
<path d="M67.8 608.4L67.8 611.2" stroke="#000" stroke-width="1.15" fill="none"/>
<path d="M76.4 608.4L76.4 611.2" stroke="#000" stroke-width="1.15" fill="none"/>
<path d="M85.0 608.4L85.0 611.2" stroke="#000" stroke-width="1.15" fill="none"/>
<path d="M93.5 608.4L93.5 611.2" stroke="#000" stroke-width="1.15" fill="none"/>
<path d="M102.1 608.4L102.1 611.2" stroke="#000" stroke-width="1.15" fill="none"/>
<path d="M110.6 608.4L110.6 611.2" stroke="#000" stroke-width="1.15" fill="none"/>
<path d="M119.2 608.4L119.2 611.2" stroke="#000" stroke-width="1.15" fill="none"/>
<path d="M127.8 608.4L127.8 611.2" stroke="#000" stroke-width="1.15" fill="none"/>
<path d="M136.3 608.4L136.3 611.2" stroke="#000" stroke-width="1.15" fill="none"/>
<path d="M144.9 608.4L144.9 611.2" stroke="#000" stroke-width="1.15" fill="none"/>
<path d="M153.4 608.4L153.4 611.2" stroke="#000" stroke-width="1.15" fill="none"/>
<path d="M162.0 608.4L162.0 611.2" stroke="#000" stroke-width="1.15" fill="none"/>
<path d="M33.7 615.2L42.0 615.2" stroke="#000" stroke-width="1.35" fill="none"/>
<text x="42.8" y="622.7" font-size="8.55" font-style="italic" stroke-width="0.4" text-anchor="end" transform="rotate(-45 42.8 622.7)">KIR2DL4</text>
<path d="M50.8 615.2L59.1 615.2" stroke="#000" stroke-width="1.35" fill="none"/>
<text x="59.9" y="622.7" font-size="8.55" font-style="italic" stroke-width="0.4" text-anchor="end" transform="rotate(-45 59.9 622.7)">KIR2DS2</text>
<path d="M67.9 615.2L76.2 615.2" stroke="#000" stroke-width="1.35" fill="none"/>
<text x="77.0" y="622.7" font-size="8.55" font-style="italic" stroke-width="0.4" text-anchor="end" transform="rotate(-45 77.0 622.7)">KIR2DS3</text>
<path d="M85.1 615.2L93.3 615.2" stroke="#000" stroke-width="1.35" fill="none"/>
<text x="94.1" y="622.7" font-size="8.55" font-style="italic" stroke-width="0.4" text-anchor="end" transform="rotate(-45 94.1 622.7)">KIR2DS4</text>
<path d="M102.2 615.2L110.4 615.2" stroke="#000" stroke-width="1.35" fill="none"/>
<text x="111.3" y="622.7" font-size="8.55" font-style="italic" stroke-width="0.4" text-anchor="end" transform="rotate(-45 111.3 622.7)">KIR2DL1</text>
<path d="M119.3 615.2L127.6 615.2" stroke="#000" stroke-width="1.35" fill="none"/>
<text x="128.4" y="622.7" font-size="8.55" font-style="italic" stroke-width="0.4" text-anchor="end" transform="rotate(-45 128.4 622.7)">KIR2DL2</text>
<path d="M136.4 615.2L144.7 615.2" stroke="#000" stroke-width="1.35" fill="none"/>
<text x="145.5" y="622.7" font-size="8.55" font-style="italic" stroke-width="0.4" text-anchor="end" transform="rotate(-45 145.5 622.7)">KIR2DL3</text>
<path d="M153.5 615.2L161.8 615.2" stroke="#000" stroke-width="1.35" fill="none"/>
<text x="162.6" y="622.7" font-size="8.55" font-style="italic" stroke-width="0.4" text-anchor="end" transform="rotate(-45 162.6 622.7)">KIR2DL5</text>
<circle cx="30.0" cy="596.6" r="1.3" fill="none" stroke="#000" stroke-width="2.0"/>
<circle cx="32.6" cy="596.6" r="1.3" fill="none" stroke="#000" stroke-width="2.0"/>
<circle cx="35.2" cy="596.6" r="1.3" fill="none" stroke="#000" stroke-width="2.0"/>
<circle cx="38.0" cy="596.6" r="1.3" fill="none" stroke="#000" stroke-width="2.0"/>
<circle cx="50.6" cy="596.6" r="1.3" fill="none" stroke="#000" stroke-width="2.0"/>
<circle cx="68.0" cy="596.6" r="1.3" fill="none" stroke="#000" stroke-width="2.0"/>
<circle cx="81.8" cy="596.6" r="1.3" fill="none" stroke="#000" stroke-width="2.0"/>
<circle cx="84.6" cy="596.6" r="1.3" fill="none" stroke="#000" stroke-width="2.0"/>
<circle cx="87.6" cy="596.6" r="1.3" fill="none" stroke="#000" stroke-width="2.0"/>
<circle cx="99.0" cy="596.6" r="1.3" fill="none" stroke="#000" stroke-width="2.0"/>
<circle cx="102.0" cy="596.6" r="1.3" fill="none" stroke="#000" stroke-width="2.0"/>
<circle cx="104.8" cy="596.6" r="1.3" fill="none" stroke="#000" stroke-width="2.0"/>
<circle cx="116.2" cy="596.6" r="1.3" fill="none" stroke="#000" stroke-width="2.0"/>
<circle cx="119.0" cy="596.6" r="1.3" fill="none" stroke="#000" stroke-width="2.0"/>
<circle cx="122.0" cy="596.6" r="1.3" fill="none" stroke="#000" stroke-width="2.0"/>
<circle cx="133.2" cy="596.6" r="1.3" fill="none" stroke="#000" stroke-width="2.0"/>
<circle cx="136.0" cy="596.6" r="1.3" fill="none" stroke="#000" stroke-width="2.0"/>
<circle cx="139.0" cy="596.6" r="1.3" fill="none" stroke="#000" stroke-width="2.0"/>
<circle cx="153.4" cy="596.6" r="1.3" fill="none" stroke="#000" stroke-width="2.0"/>
<rect x="37.5" y="593.5" width="3.7" height="3.7" fill="none" stroke="#000" stroke-width="1.35"/>
<rect x="39.8" y="595.9" width="3.7" height="3.7" fill="none" stroke="#000" stroke-width="1.35"/>
<rect x="41.4" y="594.5" width="3.7" height="3.7" fill="none" stroke="#000" stroke-width="1.35"/>
<rect x="43.4" y="591.4" width="3.7" height="3.7" fill="none" stroke="#000" stroke-width="1.35"/>
<rect x="54.5" y="564.1" width="3.7" height="3.7" fill="none" stroke="#000" stroke-width="1.35"/>
<rect x="59.1" y="568.5" width="3.7" height="3.7" fill="none" stroke="#000" stroke-width="1.35"/>
<rect x="57.1" y="578.8" width="3.7" height="3.7" fill="none" stroke="#000" stroke-width="1.35"/>
<rect x="74.2" y="585.8" width="3.7" height="3.7" fill="none" stroke="#000" stroke-width="1.35"/>
<rect x="74.2" y="589.5" width="3.7" height="3.7" fill="none" stroke="#000" stroke-width="1.35"/>
<rect x="74.2" y="591.4" width="3.7" height="3.7" fill="none" stroke="#000" stroke-width="1.35"/>
<rect x="91.8" y="568.5" width="3.7" height="3.7" fill="none" stroke="#000" stroke-width="1.35"/>
<rect x="91.8" y="577.5" width="3.7" height="3.7" fill="none" stroke="#000" stroke-width="1.35"/>
<rect x="94.8" y="584.5" width="3.7" height="3.7" fill="none" stroke="#000" stroke-width="1.35"/>
<rect x="89.8" y="586.5" width="3.7" height="3.7" fill="none" stroke="#000" stroke-width="1.35"/>
<rect x="105.8" y="578.8" width="3.7" height="3.7" fill="none" stroke="#000" stroke-width="1.35"/>
<rect x="110.2" y="582.1" width="3.7" height="3.7" fill="none" stroke="#000" stroke-width="1.35"/>
<rect x="111.8" y="586.1" width="3.7" height="3.7" fill="none" stroke="#000" stroke-width="1.35"/>
<rect x="107.2" y="589.5" width="3.7" height="3.7" fill="none" stroke="#000" stroke-width="1.35"/>
<rect x="125.8" y="568.1" width="3.7" height="3.7" fill="none" stroke="#000" stroke-width="1.35"/>
<rect x="123.2" y="577.8" width="3.7" height="3.7" fill="none" stroke="#000" stroke-width="1.35"/>
<rect x="127.6" y="582.5" width="3.7" height="3.7" fill="none" stroke="#000" stroke-width="1.35"/>
<rect x="125.8" y="590.1" width="3.7" height="3.7" fill="none" stroke="#000" stroke-width="1.35"/>
<rect x="143.2" y="557.8" width="3.7" height="3.7" fill="none" stroke="#000" stroke-width="1.35"/>
<rect x="143.2" y="565.5" width="3.7" height="3.7" fill="none" stroke="#000" stroke-width="1.35"/>
<rect x="145.8" y="580.8" width="3.7" height="3.7" fill="none" stroke="#000" stroke-width="1.35"/>
<rect x="141.6" y="585.1" width="3.7" height="3.7" fill="none" stroke="#000" stroke-width="1.35"/>
<rect x="157.2" y="537.1" width="3.7" height="3.7" fill="none" stroke="#000" stroke-width="1.35"/>
<rect x="161.8" y="539.8" width="3.7" height="3.7" fill="none" stroke="#000" stroke-width="1.35"/>
<rect x="160.2" y="565.5" width="3.7" height="3.7" fill="none" stroke="#000" stroke-width="1.35"/>
<path d="M56.0 573.0L62.4 573.0" stroke="#000" stroke-width="1.4" fill="none"/>
<path d="M59.2 568.6L59.2 577.4" stroke="#000" stroke-width="1.4" fill="none"/>
<path d="M72.8 590.6L79.2 590.6" stroke="#000" stroke-width="1.4" fill="none"/>
<path d="M76.0 588.6L76.0 592.6" stroke="#000" stroke-width="1.4" fill="none"/>
<path d="M90.6 584.0L97.0 584.0" stroke="#000" stroke-width="1.4" fill="none"/>
<path d="M93.8 580.0L93.8 588.0" stroke="#000" stroke-width="1.4" fill="none"/>
<path d="M107.4 586.0L113.8 586.0" stroke="#000" stroke-width="1.4" fill="none"/>
<path d="M110.6 583.6L110.6 588.6" stroke="#000" stroke-width="1.4" fill="none"/>
<path d="M124.4 581.4L130.8 581.4" stroke="#000" stroke-width="1.4" fill="none"/>
<path d="M127.6 577.0L127.6 586.0" stroke="#000" stroke-width="1.4" fill="none"/>
<path d="M141.8 574.4L148.2 574.4" stroke="#000" stroke-width="1.4" fill="none"/>
<path d="M145.0 567.0L145.0 582.0" stroke="#000" stroke-width="1.4" fill="none"/>
<path d="M158.8 549.0L165.2 549.0" stroke="#000" stroke-width="1.4" fill="none"/>
<path d="M162.0 541.0L162.0 558.0" stroke="#000" stroke-width="1.4" fill="none"/>
<path d="M50.4 558.6L59.6 558.6" stroke="#000" stroke-width="1.25" fill="none"/>
<path d="M50.4 556.0L50.4 561.2" stroke="#000" stroke-width="1.25" fill="none"/>
<path d="M59.6 556.0L59.6 561.2" stroke="#000" stroke-width="1.25" fill="none"/>
<circle cx="54.8" cy="554.3" r="1.3" fill="#000"/>
<path d="M85.0 564.0L94.0 564.0" stroke="#000" stroke-width="1.25" fill="none"/>
<path d="M85.0 561.4L85.0 566.6" stroke="#000" stroke-width="1.25" fill="none"/>
<path d="M94.0 561.4L94.0 566.6" stroke="#000" stroke-width="1.25" fill="none"/>
<circle cx="89.3" cy="559.7" r="1.3" fill="#000"/>
<path d="M102.0 574.0L110.8 574.0" stroke="#000" stroke-width="1.25" fill="none"/>
<path d="M102.0 571.4L102.0 576.6" stroke="#000" stroke-width="1.25" fill="none"/>
<path d="M110.8 571.4L110.8 576.6" stroke="#000" stroke-width="1.25" fill="none"/>
<circle cx="106.2" cy="569.7" r="1.3" fill="#000"/>
<path d="M119.0 563.4L128.0 563.4" stroke="#000" stroke-width="1.25" fill="none"/>
<path d="M119.0 560.8L119.0 566.0" stroke="#000" stroke-width="1.25" fill="none"/>
<path d="M128.0 560.8L128.0 566.0" stroke="#000" stroke-width="1.25" fill="none"/>
<circle cx="123.3" cy="559.1" r="1.3" fill="#000"/>
<path d="M136.0 553.0L145.4 553.0" stroke="#000" stroke-width="1.25" fill="none"/>
<path d="M136.0 550.4L136.0 555.6" stroke="#000" stroke-width="1.25" fill="none"/>
<path d="M145.4 550.4L145.4 555.6" stroke="#000" stroke-width="1.25" fill="none"/>
<circle cx="140.5" cy="548.7" r="1.3" fill="#000"/>
<path d="M153.4 531.6L162.2 531.6" stroke="#000" stroke-width="1.25" fill="none"/>
<path d="M153.4 529.0L153.4 534.2" stroke="#000" stroke-width="1.25" fill="none"/>
<path d="M162.2 529.0L162.2 534.2" stroke="#000" stroke-width="1.25" fill="none"/>
<circle cx="157.6" cy="527.3" r="1.3" fill="#000"/>
<circle cx="175.5" cy="517.0" r="1.8" fill="none" stroke="#000" stroke-width="1.35"/>
<rect x="173.7" y="525.4" width="3.7" height="3.7" fill="none" stroke="#000" stroke-width="1.35"/>
<text x="180.0" y="519.9" font-size="8.0" text-anchor="start">DMSO</text>
<text x="180.0" y="530.2" font-size="8.0" text-anchor="start">50 ng/ml ascorbic acid</text>
</svg>
</body></html>
